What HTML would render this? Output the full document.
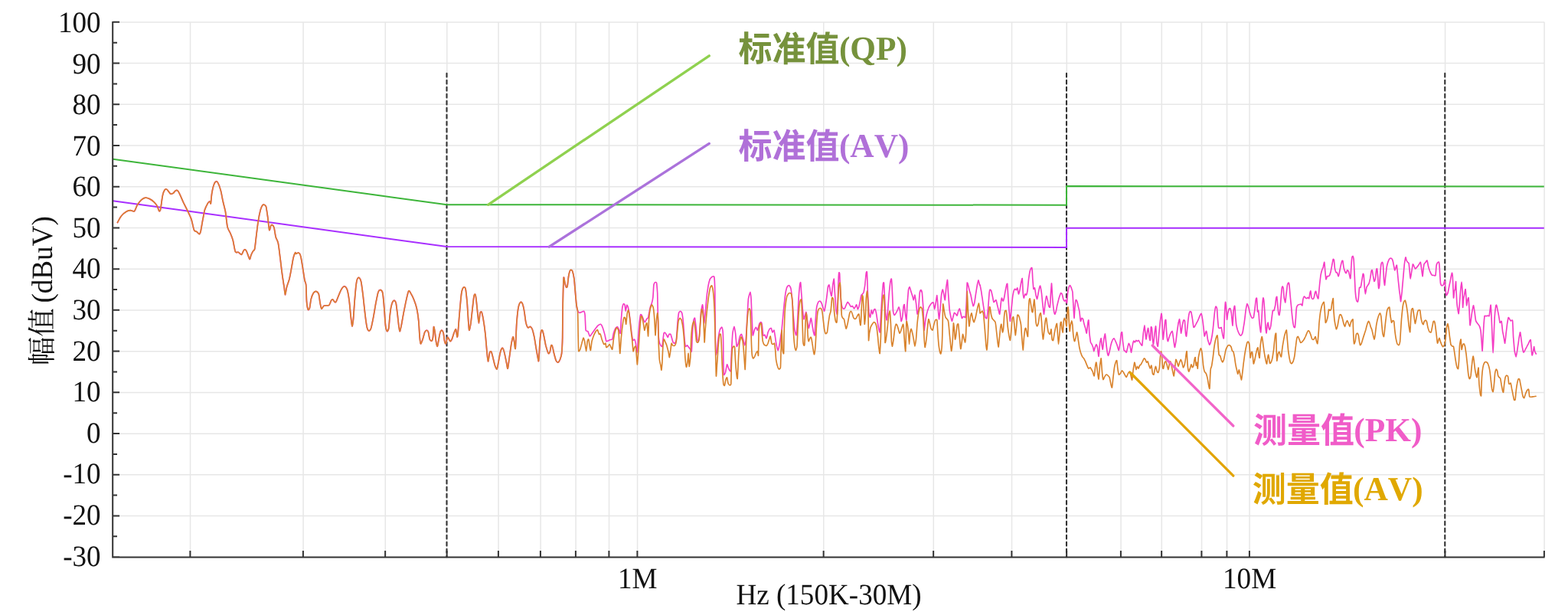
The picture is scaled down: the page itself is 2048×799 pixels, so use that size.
<!DOCTYPE html>
<html><head><meta charset="utf-8"><title>chart</title>
<style>html,body{margin:0;padding:0;background:#fff;}body{width:2048px;height:799px;overflow:hidden;font-family:"Liberation Serif",serif;}svg{display:block;will-change:transform;}text{font-family:"Liberation Serif",serif;font-kerning:none;text-rendering:geometricPrecision;}</style></head><body>
<svg width="2048" height="799" viewBox="0 0 2048 799">
<rect width="2048" height="799" fill="#fff"/>
<path d="M147.5 673.58H2017.05M147.5 619.85H2017.05M147.5 566.13H2017.05M147.5 512.41H2017.05M147.5 458.68H2017.05M147.5 404.96H2017.05M147.5 351.24H2017.05M147.5 297.52H2017.05M147.5 243.79H2017.05M147.5 190.07H2017.05M147.5 136.35H2017.05M147.5 82.62H2017.05M147.5 28.90H2017.05M248.55 28.8V727.2M396.05 28.8V727.2M503.3 28.8V727.2M583.8 28.8V727.2M651.05 28.8V727.2M706.05 28.8V727.2M752.05 28.8V727.2M795.55 28.8V727.2M832.55 28.8V727.2M1075.8 28.8V727.2M1219.3 28.8V727.2M1321.55 28.8V727.2M1393.3 28.8V727.2M1464.05 28.8V727.2M1517.3 28.8V727.2M1569.55 28.8V727.2M1602.55 28.8V727.2M1632.05 28.8V727.2M1887.55 28.8V727.2M2017.05 28.8V727.2" stroke="#e7e7e7" stroke-width="1.5" fill="none"/>
<path d="M583.5 95.7V727.2M1393 95.7V727.2M1887.25 95.7V727.2" stroke="#333" stroke-width="2.1" stroke-linecap="round" stroke-dasharray="4.7 4.3" fill="none"/>
<path d="M147.5 207.8L583.5 267.2L1393 267.7V243L2016.75 243.6" stroke="#3db53a" stroke-width="2" fill="none" stroke-linejoin="miter"/>
<path d="M147.5 262.2L583.5 322L1393 323V297.8L2016.75 297.8" stroke="#a82fff" stroke-width="2" fill="none" stroke-linejoin="miter"/>
<path d="M153.1 291.2C153.8 290.0 156.9 283.8 158.4 282.0C159.9 280.1 163.5 277.1 165.0 276.2C166.4 275.3 168.9 274.7 170.2 274.6C171.5 274.5 174.3 276.5 175.5 275.7C176.6 274.8 178.3 269.3 179.4 267.5C180.6 265.7 183.4 262.1 184.7 260.9C186.0 259.8 188.6 258.2 189.9 258.1C191.2 257.9 193.8 258.9 195.2 259.6C196.6 260.3 199.7 262.4 201.0 263.6C202.2 264.7 204.3 267.3 205.2 268.8C206.0 270.3 207.2 274.8 207.8 275.4C208.3 276.0 209.1 276.0 209.6 273.6C210.2 271.1 211.6 258.8 212.3 255.7C212.9 252.5 214.2 249.4 214.9 248.3C215.5 247.2 216.9 246.8 217.5 247.0C218.2 247.2 219.5 249.2 220.1 249.9C220.8 250.7 222.0 252.8 222.8 253.1C223.5 253.4 225.4 252.8 226.2 252.3C227.0 251.7 228.6 249.3 229.3 248.9C230.1 248.4 231.3 248.3 232.0 248.9C232.6 249.4 233.6 251.1 234.6 253.1C235.6 255.1 238.5 262.1 239.8 264.9C241.2 267.7 243.8 272.8 245.1 275.4C246.3 278.0 248.8 282.8 249.8 285.9C250.9 289.0 252.6 298.3 253.5 300.4C254.4 302.4 256.1 301.8 256.9 302.5C257.8 303.1 259.7 305.7 260.3 305.6C261.0 305.5 261.6 304.0 262.2 301.7C262.7 299.4 264.1 290.7 264.8 287.2C265.5 283.8 266.6 276.8 267.4 274.1C268.3 271.4 270.6 266.8 271.4 265.4C272.2 264.0 273.5 263.0 274.0 263.0C274.5 263.1 275.0 266.9 275.3 265.7C275.6 264.4 276.1 256.1 276.6 253.1C277.1 250.0 278.5 243.3 279.3 241.2C280.0 239.2 281.7 237.0 282.4 236.8C283.1 236.5 284.3 237.9 285.0 239.4C285.8 240.9 287.7 246.3 288.4 249.1C289.2 252.0 290.3 258.8 291.1 262.3C291.8 265.7 293.7 272.4 294.5 276.7C295.2 281.0 296.3 293.0 297.1 296.4C297.9 299.9 299.9 302.2 300.8 304.3C301.7 306.4 303.4 310.4 304.2 313.5C305.0 316.5 306.5 326.8 307.4 328.7C308.3 330.7 310.3 328.8 311.3 329.3C312.3 329.7 314.7 332.7 315.5 332.4C316.4 332.1 317.5 328.0 318.1 327.2C318.7 326.3 319.7 325.6 320.2 325.8C320.8 326.1 321.9 327.7 322.6 329.3C323.3 330.8 325.4 338.0 326.0 338.4C326.7 338.9 327.3 334.5 327.9 333.2C328.4 331.9 329.9 328.9 330.5 327.9C331.1 327.0 332.1 327.4 332.6 325.3C333.1 323.2 333.9 315.3 334.4 310.9C335.0 306.4 336.3 294.4 337.1 289.8C337.8 285.2 339.5 276.8 340.2 274.1C340.9 271.4 342.2 268.9 342.8 268.0C343.5 267.2 344.9 267.2 345.5 267.5C346.1 267.8 347.0 268.2 347.6 270.1C348.1 272.1 349.1 279.5 349.7 283.3C350.2 287.1 351.2 299.0 351.8 300.4C352.3 301.7 353.3 295.1 353.9 294.3C354.4 293.5 355.4 293.4 356.0 293.8C356.5 294.2 357.6 295.8 358.1 297.7C358.6 299.7 359.5 307.1 360.2 309.5C360.8 312.0 362.6 314.0 363.3 317.4C364.1 320.9 365.3 332.0 366.0 337.1C366.6 342.2 367.9 353.4 368.6 358.2C369.2 362.9 370.7 371.9 371.2 375.2C371.7 378.6 372.1 385.0 372.5 385.0C372.9 385.0 373.7 377.8 374.4 375.2C375.0 372.7 377.0 367.7 377.8 364.7C378.5 361.8 379.8 355.0 380.4 351.6C381.1 348.1 382.4 339.9 383.0 337.1C383.7 334.4 385.2 330.5 385.7 329.8C386.1 329.1 386.0 331.3 386.6 331.3C387.1 331.3 389.2 329.7 390.0 330.0C390.7 330.3 392.0 331.6 392.6 333.9C393.3 336.2 394.6 344.5 395.2 348.4C395.9 352.3 397.3 362.5 397.9 365.5C398.4 368.4 399.4 368.6 399.7 372.0C400.0 375.5 400.2 389.1 400.5 393.1C400.8 397.1 401.8 402.9 402.3 404.1C402.8 405.2 403.9 404.0 404.4 402.3C404.9 400.5 405.7 392.9 406.3 390.4C406.9 388.0 408.6 383.8 409.4 382.5C410.2 381.3 412.0 380.3 412.8 380.4C413.7 380.6 415.6 382.0 416.3 383.9C416.9 385.8 417.6 393.3 418.1 395.7C418.6 398.1 419.4 402.5 419.9 403.0C420.5 403.5 421.8 400.2 422.6 399.6C423.3 399.1 425.1 399.0 426.0 398.8C426.9 398.7 429.1 399.1 429.9 398.3C430.7 397.5 432.0 393.5 432.5 392.5C433.1 391.6 434.1 390.7 434.7 391.0C435.2 391.2 436.7 394.0 437.3 394.4C437.8 394.7 438.4 394.9 439.1 393.6C439.8 392.3 442.1 386.1 443.1 383.9C444.0 381.7 446.1 377.2 447.0 376.0C447.9 374.7 449.6 373.5 450.4 373.9C451.2 374.2 452.8 376.2 453.6 378.6C454.3 381.0 455.6 388.6 456.2 393.1C456.8 397.5 457.8 410.0 458.3 414.1C458.8 418.2 459.5 425.6 459.9 425.9C460.3 426.2 461.0 421.5 461.5 416.7C461.9 411.9 463.0 393.9 463.6 387.8C464.1 381.7 465.1 371.3 465.7 368.1C466.2 364.9 467.6 362.5 468.3 362.3C469.0 362.2 470.7 363.9 471.4 366.8C472.2 369.6 473.4 379.9 474.1 385.2C474.7 390.4 476.0 403.6 476.7 408.8C477.3 414.1 478.7 424.3 479.3 427.2C480.0 430.1 481.3 431.8 481.9 431.9C482.6 432.1 483.8 430.8 484.6 428.5C485.3 426.3 486.9 418.2 487.7 414.1C488.5 410.0 490.1 399.8 490.9 395.7C491.7 391.6 493.2 383.4 494.0 381.2C494.8 379.1 496.5 378.4 497.2 378.6C497.9 378.8 499.2 379.4 499.8 382.5C500.4 385.7 501.5 398.3 501.9 403.6C502.4 408.8 503.0 421.0 503.5 424.6C503.9 428.2 505.1 432.0 505.6 432.5C506.1 433.0 507.2 431.2 507.7 428.5C508.2 425.9 508.8 415.2 509.3 411.5C509.7 407.7 510.7 400.7 511.4 398.3C512.0 395.9 513.8 392.6 514.5 392.3C515.2 391.9 516.6 393.3 517.2 395.7C517.7 398.1 518.8 407.5 519.3 411.5C519.7 415.4 520.7 424.6 521.1 427.2C521.5 429.8 522.0 433.0 522.4 432.5C522.8 432.0 523.9 426.2 524.5 423.3C525.1 420.3 526.4 412.6 527.1 408.8C527.9 405.0 529.5 396.7 530.3 393.1C531.1 389.4 532.9 381.1 533.7 379.9C534.6 378.8 536.2 382.4 537.1 383.9C538.0 385.3 539.9 389.4 540.8 391.7C541.7 394.0 543.5 398.8 544.2 402.3C545.0 405.7 546.3 414.6 546.8 419.3C547.3 424.1 547.8 436.7 548.2 440.4C548.5 444.0 549.0 448.4 549.5 448.8C550.0 449.1 551.4 444.9 552.1 443.0C552.8 441.1 554.1 435.3 554.7 433.8C555.4 432.3 556.8 431.2 557.4 431.2C557.9 431.2 559.0 432.3 559.5 433.8C559.9 435.3 560.7 441.6 561.3 443.0C561.9 444.4 563.4 445.4 563.9 445.1C564.4 444.8 565.2 442.7 565.5 440.4C565.8 438.1 566.2 427.5 566.5 426.7C566.9 425.9 567.7 431.3 568.1 433.8C568.5 436.3 569.3 444.6 569.7 446.9C570.1 449.2 570.9 452.5 571.3 452.2C571.7 451.8 572.4 446.6 572.9 444.3C573.3 442.0 574.4 435.4 575.0 433.8C575.5 432.1 576.5 431.0 577.1 431.2C577.6 431.3 578.7 433.3 579.2 435.1C579.6 436.9 580.3 443.9 580.7 445.6C581.1 447.3 581.9 449.4 582.3 448.8C582.8 448.1 583.9 441.1 584.4 440.4C584.9 439.6 586.1 442.3 586.5 443.0C587.0 443.6 587.6 445.6 588.1 445.6C588.6 445.6 589.6 444.3 590.2 443.0C590.8 441.7 592.2 436.7 592.8 435.1C593.5 433.5 594.9 429.3 595.4 429.8C596.0 430.4 596.7 439.2 597.0 439.8C597.4 440.5 597.7 439.0 598.1 435.1C598.5 431.2 599.6 415.4 600.2 408.8C600.8 402.3 602.1 386.8 602.8 382.5C603.5 378.3 604.8 375.8 605.4 375.2C606.1 374.5 607.5 374.7 608.1 377.3C608.7 379.9 609.7 390.4 610.2 395.7C610.6 400.9 611.4 414.9 611.7 419.3C612.1 423.8 612.4 430.8 612.8 431.2C613.2 431.5 614.4 425.4 614.9 422.0C615.4 418.5 616.5 408.0 617.0 403.6C617.5 399.1 618.6 388.9 619.1 386.5C619.6 384.1 620.3 383.6 620.7 384.4C621.1 385.2 621.9 390.0 622.2 393.1C622.6 396.1 623.4 405.2 623.8 408.8C624.2 412.4 625.0 422.0 625.4 422.0C625.8 422.0 626.5 410.6 627.0 408.8C627.4 407.0 628.6 406.5 629.1 407.5C629.6 408.5 630.6 413.3 631.2 416.7C631.8 420.2 633.2 429.8 633.8 435.1C634.4 440.4 635.5 454.1 635.9 458.7C636.4 463.3 637.0 471.7 637.5 471.9C637.9 472.0 639.1 461.6 639.6 460.1C640.1 458.5 641.2 458.4 641.7 459.3C642.2 460.1 643.2 464.4 643.8 466.6C644.4 468.9 645.8 475.2 646.4 477.1C647.1 479.0 648.5 482.5 649.0 481.9C649.6 481.2 650.6 474.8 651.2 471.9C651.7 469.0 653.1 460.9 653.8 458.7C654.4 456.5 655.7 453.9 656.4 454.3C657.1 454.6 658.4 458.8 659.0 461.4C659.7 463.9 661.1 472.0 661.7 474.5C662.2 477.0 662.8 482.1 663.2 481.1C663.7 480.1 664.7 470.7 665.3 466.6C665.9 462.5 667.4 451.6 668.0 448.2C668.6 444.9 669.6 440.2 670.1 439.8C670.5 439.5 671.3 443.7 671.6 445.6C672.0 447.5 672.8 457.8 673.2 454.8C673.6 451.8 674.3 428.5 674.8 422.0C675.3 415.4 676.2 405.7 676.9 402.3C677.5 398.8 679.3 395.0 680.0 394.4C680.7 393.7 682.0 395.5 682.6 397.0C683.2 398.5 684.2 403.2 684.7 406.2C685.3 409.2 686.2 418.0 686.8 420.6C687.4 423.3 688.7 427.0 689.5 427.7C690.2 428.5 691.9 426.2 692.6 426.4C693.3 426.7 694.6 428.1 695.2 429.8C695.9 431.6 697.2 437.1 697.9 440.4C698.5 443.6 699.9 452.7 700.5 456.1C701.1 459.6 702.2 466.1 702.6 467.9C703.0 469.7 703.3 473.4 703.6 470.6C704.0 467.8 704.8 450.4 705.2 445.6C705.6 440.8 706.4 434.3 706.8 432.5C707.2 430.7 707.9 430.5 708.4 431.2C708.8 431.8 709.7 435.3 710.2 437.7C710.8 440.2 712.1 447.9 712.8 450.9C713.6 453.8 715.6 460.4 716.3 461.4C716.9 462.4 717.9 460.1 718.4 458.7C718.8 457.4 719.5 451.7 719.9 450.9C720.3 450.0 721.1 450.9 721.5 452.2C722.0 453.5 723.0 459.1 723.6 461.4C724.2 463.7 725.6 469.1 726.2 470.6C726.9 472.0 728.2 473.4 728.9 473.2C729.5 473.0 730.9 470.7 731.5 469.3C732.1 467.8 733.2 465.0 733.6 461.4C734.0 457.8 734.5 448.6 734.7 440.4C734.8 432.1 735.0 405.4 735.2 395.7C735.4 386.0 735.9 366.1 736.2 362.8C736.6 359.6 737.4 367.9 737.8 369.4C738.2 370.9 739.0 374.1 739.4 374.7C739.8 375.3 740.6 375.8 741.0 374.1C741.4 372.5 742.1 364.0 742.5 361.5C742.9 359.0 743.7 355.3 744.1 354.2C744.5 353.0 745.2 352.3 745.7 352.3C746.1 352.3 747.3 352.7 747.8 354.2C748.3 355.7 749.4 360.6 749.9 364.2C750.3 367.7 751.1 378.3 751.5 382.5C751.9 386.8 752.6 395.4 753.0 398.3C753.4 401.3 754.4 405.2 754.6 406.2" stroke="#f53cc4" stroke-width="1.8" fill="none" stroke-linejoin="round"/>
<path d="M754.6 406.2C754.8 406.4 756.3 408.2 756.7 408.3C757.1 408.4 758.9 407.7 759.3 407.5C759.8 407.3 762.1 405.9 762.5 406.2C762.9 406.5 763.9 409.4 764.1 411.5C764.3 413.5 764.8 429.4 765.1 431.2C765.4 432.9 767.3 431.8 767.8 432.5C768.2 433.1 769.9 438.8 770.4 439.0C770.9 439.3 773.0 435.9 773.5 435.1C774.1 434.3 776.6 430.7 777.2 429.8C777.8 429.0 780.3 425.7 780.9 425.1C781.5 424.6 784.0 423.1 784.6 423.3C785.1 423.5 786.8 426.6 787.2 427.7C787.6 428.8 789.4 434.9 789.8 436.4C790.2 437.9 791.5 444.9 791.9 445.6C792.3 446.3 794.1 445.0 794.6 444.8C795.0 444.6 796.7 443.7 797.2 443.5C797.6 443.4 799.5 443.7 799.8 443.0C800.2 442.3 801.0 436.3 801.4 435.1C801.7 433.9 803.6 429.2 804.0 428.5C804.5 427.8 806.2 426.5 806.6 426.7C807.0 426.9 808.4 430.5 808.7 431.2C809.1 431.9 810.1 436.3 810.3 435.1C810.5 433.9 811.2 419.6 811.4 416.7C811.6 413.9 812.7 402.6 812.9 400.9C813.2 399.3 814.3 396.7 814.5 396.5C814.8 396.3 815.9 397.5 816.1 398.3C816.3 399.1 816.9 406.2 817.2 406.2C817.4 406.2 818.5 398.8 818.7 398.3C819.0 397.9 820.0 400.1 820.3 400.9C820.6 401.8 821.6 407.1 821.9 408.8C822.1 410.6 823.2 419.8 823.5 422.0C823.7 424.1 824.8 433.2 825.0 435.1C825.3 437.0 826.3 443.6 826.6 444.3C826.9 445.0 828.4 442.7 828.7 443.0C829.0 443.3 830.0 446.8 830.3 448.2C830.6 449.7 831.6 460.5 831.9 460.1C832.1 459.6 833.2 446.2 833.4 443.0C833.7 439.8 834.8 424.6 835.0 422.0C835.3 419.3 836.3 411.8 836.6 410.9C836.9 410.0 837.9 411.0 838.2 411.5C838.5 411.9 839.9 415.9 840.3 416.7C840.6 417.5 842.0 420.6 842.4 420.6C842.7 420.6 844.1 417.2 844.5 416.7C844.8 416.2 846.3 415.5 846.6 414.6C846.9 413.7 847.9 407.4 848.2 406.2C848.4 404.9 849.5 400.5 849.7 399.6C850.0 398.8 851.0 396.7 851.3 395.7C851.6 394.7 852.7 389.8 852.9 387.8C853.1 385.8 853.7 373.6 853.9 372.0C854.2 370.4 855.2 368.8 855.5 368.6C855.8 368.4 857.4 368.3 857.6 369.4C857.9 370.6 858.5 379.5 858.7 382.5C858.8 385.6 859.1 402.3 859.2 406.2C859.3 410.1 859.6 426.7 859.7 429.8C859.8 433.0 860.5 442.5 860.8 444.3C861.0 446.0 862.5 450.2 862.9 450.9C863.2 451.5 864.7 452.8 865.0 452.2C865.2 451.5 865.8 444.4 866.0 443.0C866.2 441.6 866.9 435.8 867.1 435.1C867.3 434.4 868.3 434.1 868.6 434.3C869.0 434.5 870.4 437.2 870.8 437.7C871.1 438.2 872.1 440.5 872.3 440.4C872.6 440.2 873.6 436.7 873.9 436.4C874.2 436.1 875.7 436.0 876.0 436.4C876.3 436.8 877.3 440.8 877.6 441.7C877.8 442.5 878.9 446.4 879.2 446.9C879.5 447.5 880.9 448.6 881.3 448.2C881.6 447.9 883.1 445.2 883.4 443.0C883.7 440.8 884.7 424.8 884.9 422.0C885.2 419.1 886.2 410.1 886.5 408.8C886.8 407.5 888.3 406.2 888.6 406.2C889.0 406.2 890.4 407.7 890.7 408.8C891.0 409.9 892.0 416.7 892.3 419.3C892.6 422.0 893.6 437.6 893.9 440.4C894.1 443.1 895.1 451.3 895.4 452.2C895.8 453.1 897.2 450.8 897.6 450.9C897.9 451.0 899.3 453.1 899.7 453.5C900.0 453.9 901.4 455.7 901.8 456.1C902.1 456.6 903.1 460.5 903.3 458.7C903.6 457.0 904.2 438.5 904.4 435.1C904.6 431.7 905.7 419.7 906.0 418.0C906.2 416.4 907.3 414.6 907.5 415.4C907.8 416.2 908.8 424.9 909.1 427.2C909.4 429.5 910.4 441.4 910.7 443.0C911.0 444.5 912.0 446.3 912.3 445.6C912.5 445.0 913.6 438.2 913.8 435.1C914.1 432.0 915.1 411.9 915.4 408.8C915.7 405.7 917.3 398.0 917.5 397.8C917.8 397.6 918.4 404.2 918.6 406.2C918.7 408.2 919.4 421.7 919.6 422.0C919.8 422.2 920.9 411.5 921.2 408.8C921.5 406.2 922.5 393.1 922.8 390.4C923.0 387.8 924.0 379.3 924.4 377.3C924.7 375.3 926.1 368.1 926.5 366.8C926.8 365.5 928.6 362.5 929.1 362.1C929.6 361.6 932.4 359.8 932.8 361.5C933.2 363.2 933.7 376.4 933.8 382.5C933.9 388.7 934.2 428.4 934.3 435.1C934.4 441.8 934.7 460.7 934.9 462.7C935.0 464.7 936.2 460.4 936.4 458.7C936.7 457.1 937.7 445.3 938.0 443.0C938.3 440.7 939.7 432.5 940.1 431.2C940.5 429.8 942.4 426.9 942.7 427.2C943.1 427.5 944.1 431.8 944.3 435.1C944.5 438.4 944.8 462.1 944.8 466.6C944.9 471.1 945.2 487.3 945.4 489.0C945.6 490.6 947.1 487.4 947.5 486.3C947.8 485.2 949.2 476.3 949.6 475.8C949.9 475.4 951.3 480.4 951.7 481.1C952.1 481.8 954.0 486.1 954.3 484.5C954.6 482.9 955.1 465.5 955.4 461.4C955.6 457.3 956.6 438.0 956.9 435.1C957.2 432.2 958.7 426.4 959.0 426.4C959.3 426.4 960.3 433.0 960.6 435.1C960.9 437.2 961.9 451.1 962.2 452.2C962.5 453.3 963.9 449.3 964.3 448.2C964.6 447.1 966.0 440.0 966.4 439.0C966.7 438.1 968.1 436.1 968.5 436.4C968.8 436.7 970.2 441.8 970.6 443.0C970.9 444.2 972.4 450.9 972.7 450.9C973.0 450.9 974.0 445.8 974.3 443.0C974.5 440.1 975.6 421.1 975.8 416.7C976.1 412.3 977.1 393.4 977.4 390.4C977.8 387.5 979.7 381.2 980.0 381.2C980.3 381.2 980.9 387.7 981.1 390.4C981.2 393.2 981.9 410.1 982.1 414.1C982.3 418.0 982.9 436.3 983.2 437.7C983.4 439.1 984.9 432.0 985.3 431.2C985.6 430.3 987.0 427.2 987.4 427.2C987.7 427.2 989.1 431.5 989.5 431.2C989.8 430.8 991.2 424.1 991.6 423.3C991.9 422.4 993.4 420.6 993.7 420.6C994.0 420.6 995.0 421.9 995.2 423.3C995.5 424.7 996.5 436.6 996.8 437.7C997.1 438.9 998.6 436.9 998.9 437.2C999.3 437.5 1000.7 442.0 1001.0 441.7C1001.4 441.4 1002.8 434.8 1003.1 433.8C1003.5 432.8 1004.9 429.8 1005.2 429.3C1005.6 428.9 1007.0 428.2 1007.3 428.5C1007.6 428.9 1008.6 433.6 1008.9 433.8C1009.2 434.0 1010.7 430.6 1011.0 431.2C1011.3 431.7 1012.3 438.7 1012.6 440.4C1012.8 442.0 1013.9 449.4 1014.2 450.9C1014.5 452.3 1015.9 457.6 1016.3 457.4C1016.6 457.2 1018.1 449.9 1018.4 448.2C1018.7 446.6 1019.7 439.1 1019.9 437.7C1020.2 436.3 1020.8 433.1 1021.0 431.2C1021.2 429.2 1022.3 417.3 1022.6 414.1C1022.9 410.9 1024.3 396.0 1024.7 393.1C1025.0 390.1 1026.4 380.2 1026.8 378.6C1027.1 377.0 1028.5 373.8 1028.9 373.4C1029.2 372.9 1030.6 372.5 1031.0 372.8C1031.3 373.2 1032.8 375.8 1033.1 377.3C1033.4 378.8 1034.4 387.6 1034.7 390.4C1034.9 393.3 1036.0 408.2 1036.2 411.5C1036.5 414.7 1037.5 427.7 1037.8 429.8C1038.1 432.0 1039.6 438.4 1039.9 437.7C1040.2 437.1 1041.2 425.9 1041.5 422.0C1041.7 418.0 1042.8 394.6 1043.1 390.4C1043.3 386.3 1044.4 373.8 1044.6 372.0C1044.9 370.2 1045.5 368.0 1045.7 368.9C1045.9 369.8 1046.5 379.7 1046.7 382.5C1047.0 385.4 1048.1 400.7 1048.3 403.6C1048.6 406.4 1049.6 416.0 1049.9 416.7C1050.2 417.4 1051.2 412.2 1051.5 411.5C1051.7 410.7 1052.8 406.9 1053.0 407.5C1053.3 408.2 1054.4 417.6 1054.6 419.3C1054.9 421.1 1055.9 428.3 1056.2 428.5C1056.5 428.7 1057.5 423.1 1057.8 422.0C1058.0 420.9 1059.1 415.2 1059.3 415.4C1059.6 415.6 1060.7 423.1 1060.9 424.6C1061.2 426.1 1062.2 432.7 1062.5 433.8C1062.8 434.9 1063.9 438.9 1064.1 437.7C1064.3 436.5 1064.9 422.4 1065.1 419.3C1065.3 416.3 1066.4 403.0 1066.7 400.9C1067.0 398.9 1068.5 395.0 1068.8 394.4C1069.2 393.7 1070.6 392.9 1070.9 393.1C1071.3 393.2 1072.7 394.9 1073.0 395.7C1073.4 396.5 1074.8 401.4 1075.1 402.3C1075.4 403.1 1076.4 406.5 1076.7 406.2C1077.0 405.9 1078.0 399.8 1078.3 398.3C1078.5 396.8 1079.6 389.8 1079.8 387.8C1080.1 385.8 1081.2 376.0 1081.4 374.7C1081.7 373.4 1082.7 371.5 1083.0 372.0C1083.3 372.6 1084.3 380.0 1084.6 381.2C1084.8 382.4 1085.9 387.3 1086.1 386.5C1086.4 385.7 1087.5 373.9 1087.7 372.0C1088.0 370.2 1089.1 363.3 1089.3 364.2C1089.5 365.0 1090.1 379.3 1090.4 382.5C1090.6 385.8 1091.7 401.3 1091.9 403.6C1092.2 405.9 1093.3 411.9 1093.5 410.1C1093.7 408.4 1094.4 387.0 1094.6 382.5C1094.7 378.1 1095.4 359.1 1095.6 357.1C1095.8 355.0 1096.5 355.5 1096.7 357.6C1096.8 359.7 1097.5 379.2 1097.7 382.5C1097.9 385.9 1099.0 396.6 1099.3 398.3C1099.6 400.0 1101.0 402.7 1101.4 403.0C1101.7 403.4 1103.2 402.6 1103.5 402.3C1103.8 401.9 1104.8 399.0 1105.1 398.3C1105.4 397.7 1106.8 394.5 1107.2 394.4C1107.5 394.3 1108.9 396.5 1109.3 397.0C1109.6 397.5 1111.0 400.2 1111.4 400.4C1111.7 400.6 1113.1 399.4 1113.5 399.6C1113.8 399.8 1115.3 403.0 1115.6 403.0C1115.9 403.1 1116.9 400.9 1117.2 400.4C1117.4 400.0 1118.5 397.5 1118.7 397.8C1119.0 398.1 1120.0 403.3 1120.3 403.6C1120.6 403.8 1121.6 401.3 1121.9 400.4C1122.1 399.5 1123.2 394.3 1123.5 393.1C1123.7 391.8 1124.8 385.9 1125.0 385.2C1125.3 384.4 1126.3 384.2 1126.6 383.9C1126.9 383.5 1127.9 382.2 1128.2 381.2C1128.4 380.2 1129.5 374.1 1129.8 372.0C1130.0 370.0 1131.1 357.6 1131.3 356.3C1131.6 354.9 1132.2 353.6 1132.4 355.7C1132.6 357.9 1133.2 378.1 1133.4 382.5C1133.7 387.0 1134.8 406.2 1135.0 408.8C1135.3 411.5 1136.3 414.4 1136.6 414.1C1136.9 413.7 1137.9 405.2 1138.2 404.9C1138.4 404.6 1139.5 410.1 1139.7 410.1C1140.0 410.1 1141.1 405.4 1141.3 404.9C1141.6 404.3 1142.6 403.2 1142.9 403.6C1143.2 403.9 1144.2 407.5 1144.5 408.8C1144.7 410.1 1145.8 417.7 1146.1 419.3C1146.3 421.0 1147.4 427.3 1147.6 428.5C1147.9 429.7 1149.0 434.8 1149.2 433.8C1149.4 432.8 1150.0 420.3 1150.3 416.7C1150.5 413.1 1151.6 394.3 1151.8 390.4C1152.1 386.6 1153.2 372.5 1153.4 370.7C1153.6 369.0 1154.3 368.0 1154.5 369.4C1154.6 370.8 1155.3 384.5 1155.5 387.8C1155.7 391.1 1156.3 406.3 1156.6 408.8C1156.8 411.3 1157.9 418.5 1158.1 418.0C1158.4 417.6 1159.5 406.5 1159.7 403.6C1160.0 400.6 1161.0 385.5 1161.3 382.5C1161.6 379.6 1162.6 369.6 1162.9 368.1C1163.1 366.6 1164.2 363.0 1164.4 364.2C1164.7 365.4 1165.3 379.0 1165.5 382.5C1165.7 386.1 1166.3 403.8 1166.5 406.2C1166.8 408.6 1167.8 411.2 1168.1 411.5C1168.4 411.7 1169.9 409.4 1170.2 408.8C1170.6 408.3 1172.0 405.5 1172.3 404.9C1172.6 404.2 1173.6 400.8 1173.9 400.9C1174.2 401.1 1175.2 404.7 1175.5 406.2C1175.7 407.7 1176.8 418.7 1177.1 419.3C1177.3 420.0 1178.4 415.7 1178.6 414.1C1178.9 412.4 1180.0 401.0 1180.2 399.6C1180.4 398.3 1181.1 397.0 1181.3 397.8C1181.4 398.6 1182.1 407.1 1182.3 408.8C1182.5 410.5 1183.7 418.9 1183.9 418.0C1184.1 417.1 1184.7 401.6 1184.9 398.3C1185.2 395.0 1186.3 380.6 1186.5 378.6C1186.8 376.6 1187.8 374.6 1188.1 374.7C1188.4 374.8 1189.4 378.9 1189.7 379.9C1190.0 380.9 1191.5 385.5 1191.8 386.5C1192.1 387.5 1193.1 391.9 1193.3 391.7C1193.6 391.6 1194.7 384.8 1194.9 385.2C1195.2 385.5 1196.2 393.6 1196.5 395.7C1196.8 397.8 1197.8 409.5 1198.1 410.1C1198.3 410.8 1199.4 405.9 1199.7 403.6C1199.9 401.3 1201.0 384.6 1201.2 382.5C1201.5 380.5 1202.5 378.6 1202.8 378.6C1203.1 378.6 1204.1 380.5 1204.4 382.5C1204.6 384.6 1205.7 399.5 1206.0 403.6C1206.2 407.6 1206.8 429.8 1207.0 431.2C1207.2 432.5 1208.3 421.2 1208.6 419.3C1208.9 417.5 1210.3 410.2 1210.7 408.8C1211.0 407.4 1212.4 403.1 1212.8 402.3C1213.1 401.4 1214.5 398.9 1214.9 398.3C1215.2 397.8 1216.6 395.9 1217.0 395.7C1217.3 395.4 1218.8 394.5 1219.1 395.2C1219.4 395.8 1220.4 403.5 1220.7 403.6C1220.9 403.6 1222.0 397.2 1222.2 395.7C1222.5 394.2 1223.6 385.5 1223.8 385.7C1224.0 385.9 1224.7 395.7 1224.9 398.3C1225.1 400.9 1226.2 416.3 1226.5 416.7C1226.7 417.1 1227.8 406.2 1228.0 403.6C1228.3 400.9 1229.3 387.3 1229.6 385.2C1229.9 383.1 1230.9 378.2 1231.2 378.1C1231.4 378.0 1232.5 382.7 1232.8 383.9C1233.0 385.0 1234.1 392.5 1234.3 391.7C1234.6 391.0 1235.6 376.9 1235.9 374.7C1236.2 372.5 1237.3 364.8 1237.5 365.5C1237.7 366.1 1238.3 379.4 1238.5 382.5C1238.8 385.7 1239.9 401.1 1240.1 403.6C1240.4 406.1 1241.4 411.5 1241.7 412.8C1242.0 414.1 1243.0 419.2 1243.3 419.3C1243.5 419.4 1244.6 415.0 1244.8 414.1C1245.1 413.2 1246.1 408.6 1246.4 408.3C1246.7 408.0 1248.2 409.8 1248.5 410.1C1248.8 410.4 1249.8 412.3 1250.1 412.0C1250.4 411.6 1251.4 406.9 1251.7 406.2C1251.9 405.5 1253.0 402.8 1253.3 403.0C1253.5 403.3 1254.6 407.8 1254.8 408.8C1255.1 409.9 1256.1 415.0 1256.4 415.4C1256.7 415.8 1257.7 413.7 1258.0 413.6C1258.2 413.4 1259.3 413.5 1259.6 413.6C1259.8 413.6 1260.9 415.6 1261.1 414.1C1261.4 412.6 1262.0 399.4 1262.2 395.7C1262.4 392.0 1263.0 371.3 1263.2 369.4C1263.5 367.6 1264.6 372.5 1264.8 373.4C1265.1 374.2 1266.1 378.9 1266.4 379.9C1266.7 380.9 1267.7 384.1 1268.0 385.2C1268.2 386.3 1269.3 391.9 1269.5 393.1C1269.8 394.3 1270.9 399.4 1271.1 399.6C1271.4 399.8 1272.4 396.9 1272.7 395.7C1273.0 394.5 1274.0 387.1 1274.3 385.2C1274.6 383.2 1276.1 373.7 1276.4 372.0C1276.7 370.4 1277.7 365.5 1278.0 365.5C1278.2 365.5 1279.4 371.5 1279.5 372.0C1279.7 372.6 1279.8 371.4 1280.0 372.0C1280.2 372.7 1281.3 378.4 1281.6 379.9C1281.8 381.5 1282.9 388.7 1283.2 390.4C1283.4 392.2 1284.4 399.0 1284.7 400.9C1285.0 402.9 1286.5 412.9 1286.8 414.1C1287.2 415.3 1288.6 416.3 1288.9 415.4C1289.2 414.5 1290.2 406.3 1290.5 403.6C1290.8 400.8 1291.9 384.7 1292.1 382.5C1292.3 380.4 1292.9 378.3 1293.1 378.1C1293.4 377.9 1294.5 379.2 1294.7 379.9C1295.0 380.6 1296.0 385.3 1296.3 386.5C1296.6 387.7 1297.6 393.8 1297.9 394.4C1298.1 394.9 1299.2 393.3 1299.4 393.1C1299.7 392.8 1300.8 391.3 1301.0 391.7C1301.3 392.2 1302.3 397.2 1302.6 398.3C1302.9 399.4 1303.9 403.9 1304.2 404.9C1304.4 405.9 1305.5 410.9 1305.7 410.1C1306.0 409.4 1307.1 397.4 1307.3 395.7C1307.5 393.9 1308.2 389.3 1308.4 389.1C1308.6 388.9 1309.7 393.1 1310.0 393.1C1310.2 393.1 1311.3 390.2 1311.5 389.1C1311.8 388.0 1312.8 381.3 1313.1 379.9C1313.4 378.5 1314.5 372.8 1314.7 372.0C1314.9 371.3 1315.6 369.4 1315.7 370.7C1315.9 372.0 1316.6 384.6 1316.8 387.8C1317.0 391.0 1318.1 406.2 1318.4 408.8C1318.6 411.5 1319.2 419.8 1319.4 419.3C1319.6 418.9 1320.7 406.2 1321.0 403.6C1321.3 400.9 1322.3 389.8 1322.6 387.8C1322.8 385.8 1323.9 380.8 1324.1 379.9C1324.4 379.0 1325.5 377.4 1325.7 377.3C1326.0 377.2 1327.0 378.7 1327.3 378.6C1327.6 378.5 1328.6 375.5 1328.9 376.0C1329.1 376.4 1330.2 383.6 1330.4 383.9C1330.7 384.1 1331.8 379.8 1332.0 378.6C1332.3 377.4 1333.3 370.7 1333.6 369.4C1333.9 368.2 1335.0 362.5 1335.2 363.6C1335.4 364.7 1336.1 380.4 1336.2 382.5C1336.4 384.7 1337.1 389.0 1337.3 389.1C1337.5 389.2 1338.6 384.2 1338.9 383.9C1339.1 383.5 1340.2 385.5 1340.4 385.2C1340.7 384.8 1341.7 381.7 1342.0 379.9C1342.3 378.2 1343.3 366.5 1343.6 364.2C1343.9 361.9 1345.3 353.5 1345.7 352.3C1346.0 351.1 1347.5 348.7 1347.8 349.7C1348.1 350.7 1348.7 361.9 1348.8 364.2C1349.0 366.5 1349.7 376.3 1349.9 377.3C1350.1 378.3 1351.2 375.3 1351.5 376.0C1351.7 376.6 1352.8 384.0 1353.0 385.2C1353.3 386.4 1354.4 390.6 1354.6 390.4C1354.9 390.2 1355.9 383.9 1356.2 382.5C1356.5 381.2 1357.6 375.4 1357.8 374.7C1358.0 373.9 1358.6 372.7 1358.8 373.4C1359.0 374.0 1360.1 380.5 1360.4 382.5C1360.7 384.6 1361.7 396.0 1362.0 398.3C1362.2 400.6 1363.3 410.4 1363.6 410.1C1363.8 409.9 1364.9 397.7 1365.1 395.7C1365.4 393.7 1366.4 386.8 1366.7 386.5C1367.0 386.2 1368.0 390.6 1368.3 391.7C1368.5 392.8 1369.6 398.9 1369.9 399.6C1370.1 400.4 1371.2 402.4 1371.4 400.9C1371.7 399.5 1372.3 385.1 1372.5 382.5C1372.7 380.0 1373.4 369.5 1373.5 369.9C1373.7 370.4 1374.4 385.0 1374.6 387.8C1374.8 390.6 1375.9 401.7 1376.2 403.6C1376.4 405.4 1377.5 409.9 1377.7 410.1C1378.0 410.4 1379.1 407.2 1379.3 406.2C1379.6 405.2 1380.6 399.5 1380.9 398.3C1381.2 397.1 1382.2 392.7 1382.5 391.7C1382.7 390.8 1383.8 387.3 1384.0 386.5C1384.3 385.7 1385.4 382.8 1385.6 382.5C1385.9 382.3 1386.9 383.2 1387.2 383.9C1387.5 384.5 1388.5 389.7 1388.8 390.4C1389.0 391.2 1390.1 392.9 1390.4 393.1C1390.6 393.2 1391.7 391.5 1391.9 391.7C1392.2 392.0 1393.3 396.5 1393.5 395.7C1393.7 394.9 1394.3 384.3 1394.6 382.5C1394.8 380.8 1395.9 375.5 1396.1 374.7C1396.4 373.8 1397.4 372.5 1397.7 372.6C1398.0 372.7 1399.0 375.3 1399.3 376.0C1399.5 376.7 1400.6 379.4 1400.9 381.2C1401.1 383.1 1401.7 395.5 1401.9 398.3C1402.1 401.2 1402.8 415.2 1403.0 415.4C1403.1 415.6 1403.8 402.9 1404.0 400.9C1404.2 399.0 1404.8 392.4 1405.1 391.7C1405.3 391.1 1406.4 392.4 1406.6 393.1C1406.9 393.7 1408.0 398.5 1408.2 399.6C1408.5 400.7 1409.5 404.6 1409.8 406.2C1410.1 407.8 1411.1 418.6 1411.4 419.3C1411.6 420.1 1412.7 415.6 1412.9 415.4C1413.2 415.2 1414.3 416.0 1414.5 416.7C1414.8 417.4 1415.8 422.3 1416.1 423.3C1416.4 424.3 1417.4 427.5 1417.7 428.5C1417.9 429.5 1419.0 435.6 1419.3 435.1C1419.5 434.5 1420.6 423.4 1420.8 422.0C1421.0 420.5 1421.7 416.9 1421.9 418.0C1422.1 419.1 1422.7 432.7 1422.9 435.1C1423.2 437.5 1424.2 445.7 1424.5 446.9C1424.8 448.1 1425.8 449.0 1426.1 449.5C1426.3 450.1 1427.4 452.7 1427.7 453.5C1427.9 454.3 1428.5 458.7 1428.7 458.7C1428.9 458.7 1430.0 454.3 1430.3 453.5C1430.6 452.7 1431.6 449.5 1431.9 449.5C1432.1 449.5 1433.2 452.2 1433.4 453.5C1433.7 454.8 1434.8 465.8 1435.0 465.3C1435.3 464.9 1436.3 450.2 1436.6 448.2C1436.9 446.3 1438.0 441.4 1438.2 441.7C1438.4 441.9 1439.0 449.7 1439.2 450.9C1439.4 452.1 1440.1 456.8 1440.3 456.1C1440.5 455.5 1441.6 444.7 1441.8 443.0C1442.1 441.3 1443.2 435.7 1443.4 435.9C1443.6 436.1 1444.3 443.7 1444.5 445.6C1444.7 447.5 1445.8 457.2 1446.1 458.7C1446.3 460.3 1447.4 464.5 1447.6 464.5C1447.9 464.5 1448.9 459.9 1449.2 458.7C1449.5 457.6 1450.5 452.1 1450.8 450.9C1451.1 449.7 1452.5 445.1 1452.9 444.3C1453.2 443.5 1454.6 441.6 1455.0 441.7C1455.3 441.8 1456.7 444.8 1457.1 445.6C1457.4 446.4 1458.8 449.9 1459.2 450.9C1459.5 451.8 1461.0 457.6 1461.3 457.4C1461.6 457.2 1462.6 450.1 1462.9 448.2C1463.1 446.4 1464.2 436.3 1464.4 435.1C1464.7 433.9 1465.3 432.9 1465.5 433.8C1465.7 434.7 1466.3 443.6 1466.5 445.6C1466.8 447.6 1467.9 456.4 1468.1 457.4C1468.4 458.5 1469.4 458.0 1469.7 458.2C1470.0 458.4 1471.0 460.5 1471.3 460.1C1471.5 459.7 1472.6 454.5 1472.9 453.5C1473.1 452.5 1474.2 448.3 1474.4 448.2C1474.7 448.1 1475.7 451.2 1476.0 452.2C1476.3 453.2 1477.3 460.2 1477.6 460.1C1477.8 459.9 1478.9 452.1 1479.2 450.9C1479.4 449.6 1480.5 445.4 1480.7 445.1C1481.0 444.8 1482.0 447.0 1482.3 446.9C1482.6 446.9 1483.6 444.4 1483.9 444.3C1484.2 444.2 1485.2 445.6 1485.5 445.6C1485.7 445.6 1486.8 444.2 1487.0 444.3C1487.3 444.4 1488.4 446.5 1488.6 446.9C1488.9 447.4 1489.9 449.2 1490.2 449.5C1490.5 449.9 1491.5 452.1 1491.8 450.9C1492.0 449.7 1493.1 437.3 1493.3 435.1C1493.6 432.9 1494.7 424.6 1494.9 424.6C1495.1 424.6 1495.8 433.6 1496.0 435.1C1496.1 436.6 1496.8 443.2 1497.0 443.0C1497.2 442.8 1498.4 433.7 1498.6 432.5C1498.8 431.3 1499.4 427.9 1499.7 428.5C1499.9 429.2 1501.0 439.0 1501.2 440.4C1501.4 441.7 1502.1 445.4 1502.3 444.3C1502.5 443.2 1503.2 428.5 1503.3 427.2C1503.5 425.9 1504.2 427.2 1504.4 428.5C1504.6 429.8 1505.3 441.2 1505.4 443.0C1505.6 444.7 1506.3 450.2 1506.5 449.5C1506.7 448.9 1507.8 437.1 1508.1 435.1C1508.3 433.1 1509.4 425.0 1509.6 425.9C1509.9 426.8 1510.5 443.4 1510.7 445.6C1510.9 447.8 1512.0 453.1 1512.3 452.2C1512.5 451.3 1513.6 437.8 1513.8 435.1C1514.1 432.4 1515.2 421.5 1515.4 419.3C1515.7 417.2 1516.8 409.1 1517.0 409.3C1517.2 409.6 1517.9 419.2 1518.0 422.0C1518.2 424.8 1518.9 441.9 1519.1 443.0C1519.3 444.1 1519.9 437.1 1520.1 435.1C1520.4 433.1 1521.5 420.8 1521.7 419.3C1521.9 417.9 1522.6 416.7 1522.8 418.0C1522.9 419.3 1523.6 432.8 1523.8 435.1C1524.0 437.4 1525.1 445.2 1525.4 445.6C1525.7 446.0 1526.7 441.2 1527.0 440.4C1527.3 439.5 1528.7 435.8 1529.1 435.1C1529.4 434.4 1530.9 431.8 1531.2 432.5C1531.5 433.1 1532.5 441.2 1532.8 443.0C1533.0 444.7 1534.1 453.3 1534.3 453.5C1534.6 453.7 1535.6 447.4 1535.9 445.6C1536.2 443.9 1537.2 434.4 1537.5 432.5C1537.8 430.5 1538.8 423.3 1539.1 422.0C1539.3 420.6 1540.4 416.3 1540.6 416.7C1540.9 417.1 1541.5 425.7 1541.7 427.2C1541.9 428.7 1542.5 435.3 1542.7 435.1C1543.0 434.9 1544.1 426.0 1544.3 424.6C1544.6 423.2 1545.6 418.5 1545.9 418.0C1546.2 417.6 1547.3 417.9 1547.5 419.3C1547.7 420.8 1548.3 433.5 1548.5 435.1C1548.7 436.7 1549.4 439.9 1549.6 439.0C1549.8 438.2 1550.9 426.9 1551.2 424.6C1551.4 422.3 1552.5 412.9 1552.7 411.5C1553.0 410.0 1554.0 407.0 1554.3 406.7C1554.6 406.4 1555.6 406.7 1555.9 407.5C1556.1 408.3 1557.2 415.1 1557.5 416.7C1557.7 418.3 1558.8 426.4 1559.0 427.2C1559.3 428.0 1560.3 426.3 1560.6 425.9C1560.9 425.5 1562.4 422.6 1562.7 422.0C1563.1 421.3 1564.5 418.8 1564.8 418.0C1565.2 417.3 1566.6 413.5 1566.9 412.8C1567.3 412.0 1568.7 409.0 1569.0 409.3C1569.3 409.7 1570.3 415.0 1570.6 416.7C1570.9 418.4 1572.0 428.0 1572.2 429.8C1572.4 431.7 1573.0 438.7 1573.2 439.0C1573.4 439.4 1574.6 434.3 1574.8 433.8C1575.0 433.2 1575.6 431.7 1575.8 432.5C1576.1 433.2 1577.2 441.7 1577.4 443.0C1577.7 444.3 1578.8 447.6 1579.0 448.2C1579.2 448.8 1579.7 450.5 1580.0 450.1C1580.3 449.7 1581.8 445.1 1582.1 443.5C1582.5 441.8 1583.9 433.2 1584.2 430.4C1584.6 427.5 1586.0 411.9 1586.3 409.3C1586.6 406.8 1587.6 400.7 1587.9 400.1C1588.1 399.6 1589.2 401.3 1589.5 402.8C1589.7 404.2 1590.3 415.1 1590.5 417.2C1590.7 419.3 1591.3 426.8 1591.6 427.7C1591.8 428.6 1593.4 428.3 1593.7 428.3C1594.0 428.3 1595.0 427.0 1595.2 427.7C1595.5 428.4 1596.6 435.8 1596.8 436.9C1597.1 438.1 1598.2 443.5 1598.4 441.4C1598.6 439.3 1599.3 415.9 1599.4 412.0C1599.6 408.0 1600.3 395.2 1600.5 394.4C1600.7 393.5 1601.4 399.5 1601.5 401.5C1601.7 403.4 1602.4 416.6 1602.6 417.2C1602.8 417.9 1603.4 410.5 1603.6 409.3C1603.9 408.2 1605.0 404.1 1605.2 403.6C1605.5 403.0 1606.5 402.3 1606.8 402.8C1607.1 403.2 1608.1 407.5 1608.4 409.3C1608.6 411.2 1609.7 425.3 1610.0 425.1C1610.2 424.9 1610.8 408.9 1611.0 406.7C1611.2 404.6 1612.4 398.9 1612.6 399.3C1612.8 399.8 1613.5 409.9 1613.6 412.0C1613.8 414.0 1614.5 422.3 1614.7 423.8C1614.9 425.3 1616.0 429.4 1616.3 430.4C1616.6 431.3 1618.0 435.0 1618.4 435.6C1618.7 436.3 1620.1 438.2 1620.5 438.2C1620.8 438.2 1622.3 436.5 1622.6 435.6C1622.9 434.7 1623.9 429.3 1624.1 427.7C1624.4 426.2 1625.5 419.2 1625.7 417.2C1626.0 415.2 1627.0 405.8 1627.3 404.1C1627.6 402.4 1628.6 397.0 1628.9 396.7C1629.1 396.4 1630.2 399.3 1630.4 400.1C1630.7 401.0 1631.8 405.7 1632.0 406.7C1632.3 407.7 1633.3 411.3 1633.6 412.0C1633.9 412.7 1634.9 414.9 1635.2 415.1C1635.5 415.3 1637.0 415.5 1637.3 414.6C1637.6 413.7 1638.6 406.0 1638.9 404.1C1639.1 402.1 1640.2 392.1 1640.4 390.9C1640.6 389.7 1641.3 388.3 1641.5 389.6C1641.7 390.9 1642.4 405.4 1642.5 406.7C1642.7 408.0 1643.4 404.5 1643.6 405.4C1643.8 406.3 1644.5 415.4 1644.6 417.2C1644.8 419.1 1645.5 426.3 1645.7 427.7C1645.9 429.1 1646.6 434.4 1646.7 433.8C1646.9 433.1 1647.6 422.8 1647.8 419.8C1648.0 416.9 1648.7 401.4 1648.8 398.8C1649.0 396.2 1649.7 389.3 1649.9 388.8C1650.1 388.4 1650.8 391.9 1650.9 393.6C1651.1 395.3 1651.8 406.5 1652.0 409.3C1652.2 412.2 1652.9 425.6 1653.0 427.7C1653.2 429.8 1653.9 435.0 1654.1 434.8C1654.3 434.6 1655.0 426.2 1655.1 425.1C1655.3 424.0 1656.0 420.9 1656.2 421.2C1656.4 421.4 1657.1 427.0 1657.2 427.7C1657.4 428.5 1658.1 430.6 1658.3 430.4C1658.5 430.1 1659.6 426.6 1659.9 425.1C1660.1 423.6 1661.2 413.6 1661.5 412.0C1661.7 410.3 1662.3 405.9 1662.5 405.4C1662.7 404.8 1663.8 405.9 1664.1 405.4C1664.3 404.8 1665.4 400.1 1665.7 398.8C1665.9 397.5 1666.5 390.6 1666.7 389.6C1666.9 388.7 1667.6 386.8 1667.8 387.5C1667.9 388.3 1668.6 397.0 1668.8 398.8C1669.0 400.6 1669.7 408.3 1669.9 409.3C1670.0 410.4 1670.7 411.9 1670.9 411.4C1671.1 411.0 1671.8 405.8 1672.0 404.1C1672.1 402.4 1672.8 393.1 1673.0 390.9C1673.2 388.8 1673.9 379.2 1674.1 377.8C1674.2 376.4 1674.9 374.0 1675.1 373.9C1675.3 373.8 1676.0 375.3 1676.2 376.5C1676.3 377.7 1677.0 386.8 1677.2 388.3C1677.4 389.8 1678.6 395.1 1678.8 394.9C1679.0 394.7 1679.6 387.5 1679.8 385.7C1680.1 383.8 1681.2 373.9 1681.4 372.5C1681.7 371.2 1682.8 369.1 1683.0 369.1C1683.2 369.1 1683.9 371.2 1684.0 372.5C1684.2 373.9 1684.9 383.3 1685.1 385.7C1685.3 388.1 1686.4 398.8 1686.7 401.5C1686.9 404.1 1688.0 415.1 1688.3 417.2C1688.5 419.3 1689.6 425.6 1689.8 426.4C1690.1 427.2 1691.2 428.2 1691.4 427.2C1691.6 426.2 1692.3 416.7 1692.5 414.6C1692.6 412.4 1693.3 402.8 1693.5 401.5C1693.7 400.1 1694.8 398.6 1695.1 398.3C1695.4 398.0 1696.8 397.6 1697.2 397.5C1697.5 397.4 1699.0 396.9 1699.3 397.0C1699.6 397.1 1700.6 399.3 1700.9 398.8C1701.1 398.3 1701.7 391.9 1701.9 390.9C1702.1 390.0 1703.2 387.2 1703.5 387.0C1703.8 386.8 1704.8 388.6 1705.1 388.8C1705.3 389.1 1706.4 389.7 1706.6 389.6C1706.9 389.6 1708.0 388.3 1708.2 388.3C1708.5 388.3 1709.6 390.1 1709.8 389.6C1710.0 389.2 1710.7 383.9 1710.8 383.1C1711.0 382.2 1711.7 379.5 1711.9 379.9C1712.1 380.3 1712.7 387.4 1712.9 388.3C1713.2 389.2 1714.3 390.4 1714.5 390.4C1714.8 390.5 1715.8 389.6 1716.1 388.8C1716.4 388.1 1717.5 382.4 1717.7 381.7C1717.9 381.0 1718.5 380.0 1718.7 380.4C1718.9 380.9 1720.0 386.2 1720.3 387.0C1720.6 387.8 1721.6 390.8 1721.9 389.6C1722.1 388.4 1723.2 375.1 1723.5 372.5C1723.7 370.0 1724.8 361.1 1725.0 359.4C1725.3 357.8 1726.3 353.7 1726.6 352.8C1726.9 352.0 1727.9 349.8 1728.2 348.9C1728.4 348.0 1729.5 341.9 1729.8 342.3C1730.0 342.8 1730.6 352.3 1730.8 354.2C1731.0 356.0 1731.6 364.1 1731.9 364.7C1732.1 365.2 1733.2 361.1 1733.4 360.7C1733.7 360.4 1734.8 360.8 1735.0 360.7C1735.3 360.6 1736.3 360.0 1736.6 359.4C1736.9 358.9 1737.9 355.3 1738.2 354.2C1738.4 353.1 1739.5 347.6 1739.7 346.3C1740.0 345.0 1741.1 338.9 1741.3 338.4C1741.5 337.8 1742.2 338.7 1742.4 339.7C1742.6 340.7 1743.2 348.9 1743.4 350.2C1743.6 351.5 1744.7 355.0 1745.0 355.5C1745.3 356.0 1746.3 355.8 1746.6 356.3C1746.8 356.7 1747.9 360.9 1748.2 360.7C1748.4 360.6 1749.5 355.4 1749.7 354.2C1750.0 353.0 1751.0 347.4 1751.3 346.3C1751.6 345.1 1752.7 340.9 1752.9 340.5C1753.1 340.1 1753.8 340.3 1753.9 341.0C1754.1 341.7 1754.8 347.8 1755.0 348.9C1755.2 350.0 1756.3 353.5 1756.6 354.2C1756.8 354.8 1757.9 356.9 1758.1 356.8C1758.4 356.7 1759.5 353.1 1759.7 352.8C1760.0 352.6 1761.0 353.5 1761.3 354.2C1761.6 354.8 1762.7 360.0 1762.9 360.7C1763.1 361.5 1763.7 364.6 1763.9 363.4C1764.1 362.1 1764.8 348.6 1765.0 346.3C1765.1 344.0 1765.8 336.7 1766.0 335.8C1766.2 334.8 1766.9 334.2 1767.1 334.5C1767.2 334.7 1767.9 336.3 1768.1 338.4C1768.3 340.5 1769.0 355.9 1769.2 359.4C1769.4 362.9 1770.0 377.7 1770.2 380.4C1770.4 383.2 1771.5 391.1 1771.8 392.3C1772.1 393.4 1773.2 394.4 1773.4 394.1C1773.6 393.8 1774.3 389.8 1774.4 388.3C1774.6 386.8 1775.3 376.8 1775.5 375.7C1775.7 374.6 1776.8 375.9 1777.1 375.2C1777.3 374.5 1778.4 368.8 1778.6 367.3C1778.9 365.8 1780.0 358.2 1780.2 357.6C1780.4 356.9 1781.1 357.9 1781.3 359.4C1781.4 360.9 1782.1 373.1 1782.3 375.2C1782.5 377.2 1783.1 383.8 1783.4 383.8C1783.6 383.8 1784.7 376.1 1784.9 375.2C1785.2 374.2 1786.3 373.0 1786.5 372.5C1786.8 372.1 1787.8 370.7 1788.1 369.9C1788.4 369.2 1789.4 364.7 1789.7 363.4C1789.9 362.0 1791.0 354.5 1791.2 353.6C1791.5 352.8 1792.1 352.4 1792.3 352.8C1792.5 353.3 1793.1 358.2 1793.3 359.4C1793.6 360.6 1794.7 367.0 1794.9 367.3C1795.2 367.6 1796.3 364.6 1796.5 363.4C1796.7 362.1 1797.4 353.9 1797.6 352.8C1797.7 351.8 1798.4 350.2 1798.6 351.0C1798.8 351.8 1799.5 359.9 1799.7 362.0C1799.8 364.2 1800.5 375.6 1800.7 376.5C1800.9 377.4 1801.6 374.2 1801.8 372.5C1801.9 370.9 1802.6 359.1 1802.8 356.8C1803.0 354.5 1803.6 346.2 1803.9 345.0C1804.1 343.8 1805.2 342.2 1805.4 342.3C1805.7 342.4 1806.3 344.4 1806.5 346.3C1806.7 348.1 1807.4 362.5 1807.5 364.7C1807.7 366.9 1808.4 372.8 1808.6 372.5C1808.8 372.3 1809.4 364.0 1809.6 362.0C1809.9 360.1 1811.0 350.5 1811.2 348.9C1811.5 347.3 1812.5 343.2 1812.8 342.3C1813.1 341.5 1814.1 338.8 1814.4 338.4C1814.7 338.0 1816.1 337.0 1816.5 337.1C1816.8 337.1 1818.3 338.3 1818.6 338.9C1818.9 339.6 1819.9 343.8 1820.1 345.0C1820.4 346.1 1821.5 352.5 1821.7 352.8C1822.0 353.2 1823.1 349.4 1823.3 348.9C1823.5 348.4 1824.2 345.6 1824.4 346.3C1824.5 346.9 1825.2 354.6 1825.4 356.8C1825.6 359.0 1826.7 370.1 1827.0 372.5C1827.2 375.0 1828.3 383.9 1828.6 385.7C1828.8 387.4 1829.4 394.0 1829.6 393.6C1829.8 393.1 1830.9 383.1 1831.2 380.4C1831.4 377.8 1832.5 365.0 1832.8 362.0C1833.0 359.1 1834.1 347.2 1834.3 345.0C1834.6 342.8 1835.7 336.2 1835.9 335.8C1836.1 335.3 1836.7 339.2 1837.0 339.7C1837.2 340.3 1838.3 342.0 1838.5 342.3C1838.8 342.7 1839.9 342.7 1840.1 343.6C1840.3 344.6 1841.0 352.4 1841.2 354.2C1841.3 355.9 1842.0 364.1 1842.2 364.1C1842.4 364.1 1843.5 355.8 1843.8 354.2C1844.1 352.6 1845.1 345.5 1845.4 345.0C1845.6 344.4 1846.7 347.1 1846.9 347.6C1847.2 348.1 1848.2 350.9 1848.5 351.0C1848.8 351.1 1850.3 349.3 1850.6 348.9C1851.0 348.5 1852.4 346.7 1852.7 346.3C1853.0 345.8 1854.1 344.0 1854.3 343.6C1854.5 343.3 1855.2 341.9 1855.4 342.3C1855.5 342.8 1856.2 347.4 1856.4 348.9C1856.6 350.4 1857.8 360.5 1858.0 360.7C1858.2 360.9 1858.9 352.8 1859.0 351.5C1859.2 350.2 1859.8 345.8 1860.0 345.0C1860.2 344.3 1861.7 342.9 1862.0 342.5C1862.3 342.1 1863.7 339.6 1864.0 340.0C1864.3 340.4 1865.2 346.4 1865.5 347.5C1865.8 348.7 1867.1 352.8 1867.5 353.8C1867.9 354.7 1869.6 358.3 1870.0 358.8C1870.5 359.3 1872.6 359.5 1873.0 359.5C1873.4 359.6 1874.8 360.5 1875.0 359.5C1875.3 358.5 1875.8 348.9 1876.0 347.5C1876.2 346.1 1877.2 343.4 1877.5 343.0C1877.8 342.6 1879.3 341.5 1879.5 342.5C1879.8 343.5 1880.4 352.7 1880.5 355.0C1880.7 357.3 1881.3 368.5 1881.5 370.0C1881.8 371.5 1883.2 372.9 1883.5 373.0C1883.9 373.1 1885.2 371.9 1885.5 371.3C1885.8 370.7 1886.8 365.8 1887.0 366.3C1887.2 366.8 1887.9 375.9 1888.0 377.5C1888.2 379.2 1888.8 385.1 1889.0 385.6C1889.3 386.0 1890.7 383.6 1891.0 382.6C1891.4 381.5 1892.7 374.2 1893.0 372.5C1893.4 370.9 1894.8 363.9 1895.0 362.5C1895.3 361.2 1896.3 356.1 1896.5 356.3C1896.8 356.5 1897.4 362.3 1897.5 365.0C1897.7 367.7 1898.4 387.6 1898.5 388.8C1898.7 390.1 1899.4 381.0 1899.5 380.1C1899.7 379.1 1900.4 378.6 1900.6 377.5C1900.7 376.5 1901.4 367.3 1901.6 367.5C1901.7 367.7 1901.9 377.5 1902.1 380.1C1902.2 382.6 1902.8 395.1 1903.1 397.6C1903.3 400.0 1904.8 409.4 1905.1 409.6C1905.3 409.8 1905.8 402.5 1906.1 400.1C1906.3 397.6 1907.3 382.7 1907.6 380.1C1907.8 377.4 1908.9 368.0 1909.1 368.0C1909.3 368.0 1909.9 377.3 1910.1 380.1C1910.2 382.8 1910.4 400.5 1910.6 401.3C1910.7 402.2 1911.4 391.4 1911.6 390.1C1911.7 388.7 1912.4 386.1 1912.6 385.1C1912.8 384.0 1913.9 377.1 1914.1 377.5C1914.3 378.0 1914.9 388.3 1915.1 390.1C1915.2 391.8 1915.4 398.6 1915.6 398.8C1915.7 399.0 1916.4 393.4 1916.6 392.6C1916.8 391.7 1917.9 387.8 1918.1 388.8C1918.3 389.9 1918.9 402.1 1919.1 405.1C1919.2 408.1 1919.9 423.8 1920.1 424.6C1920.3 425.4 1921.3 416.7 1921.6 415.1C1921.8 413.5 1922.8 406.4 1923.1 405.1C1923.3 403.7 1924.3 398.6 1924.6 398.8C1924.8 399.0 1925.8 405.9 1926.1 407.6C1926.3 409.3 1927.3 417.6 1927.6 418.8C1927.9 420.1 1929.7 422.0 1930.1 422.6C1930.5 423.2 1932.3 425.5 1932.6 426.4C1932.9 427.2 1933.9 431.1 1934.1 432.6C1934.3 434.2 1934.9 443.0 1935.1 445.1C1935.3 447.3 1935.9 458.6 1936.1 458.1C1936.3 457.7 1936.9 443.1 1937.1 440.1C1937.3 437.2 1937.9 424.9 1938.1 422.6C1938.3 420.3 1938.8 413.4 1939.1 412.6C1939.3 411.8 1940.7 412.6 1941.1 412.6C1941.5 412.5 1943.3 412.1 1943.6 412.1C1943.9 412.1 1944.9 413.2 1945.1 412.6C1945.3 412.0 1945.9 406.3 1946.1 405.1C1946.3 403.9 1946.9 397.5 1947.1 398.3C1947.3 399.2 1947.9 411.6 1948.1 415.1C1948.3 418.6 1948.9 436.3 1949.1 440.1C1949.3 443.9 1949.9 460.7 1950.1 460.7C1950.3 460.7 1950.9 443.9 1951.1 440.1C1951.3 436.3 1951.9 418.4 1952.1 415.1C1952.3 411.8 1953.4 401.5 1953.6 400.1C1953.8 398.7 1954.4 397.9 1954.6 398.3C1954.8 398.7 1955.9 403.9 1956.1 405.1C1956.4 406.3 1957.4 411.2 1957.6 412.6C1957.9 413.9 1958.8 420.8 1959.1 421.4C1959.4 421.9 1960.8 418.7 1961.1 419.6C1961.4 420.5 1962.4 430.9 1962.6 432.6C1962.9 434.3 1963.9 438.8 1964.1 440.1C1964.4 441.4 1965.4 448.6 1965.6 448.1C1965.9 447.7 1966.9 437.2 1967.1 435.1C1967.4 433.0 1968.4 424.3 1968.6 422.6C1968.9 420.9 1969.9 415.1 1970.1 414.6C1970.4 414.1 1971.4 416.0 1971.6 416.3C1971.9 416.7 1972.8 418.6 1973.1 418.8C1973.5 419.1 1975.4 417.1 1975.6 418.8C1975.9 420.6 1976.4 436.9 1976.6 440.1C1976.9 443.4 1977.9 455.5 1978.1 457.6C1978.4 459.8 1979.9 465.9 1980.2 465.9C1980.4 465.9 1981.4 459.2 1981.7 457.6C1981.9 456.1 1982.9 449.3 1983.2 447.6C1983.4 446.0 1984.4 438.8 1984.7 437.6C1984.9 436.5 1985.4 433.2 1985.7 433.9C1985.9 434.5 1986.9 443.4 1987.2 445.1C1987.4 446.9 1988.4 453.9 1988.7 455.1C1988.9 456.4 1989.9 460.0 1990.2 460.2C1990.5 460.3 1991.8 457.0 1992.2 456.4C1992.5 455.8 1993.8 453.3 1994.2 452.6C1994.5 452.0 1995.8 449.6 1996.2 448.9C1996.5 448.2 1997.9 445.0 1998.2 444.6C1998.4 444.2 1999.0 443.0 1999.2 443.9C1999.3 444.8 2000.0 453.5 2000.2 455.1C2000.3 456.8 2001.0 463.7 2001.2 463.9C2001.4 464.1 2002.5 458.6 2002.7 457.6C2002.9 456.7 2003.5 452.5 2003.7 452.6C2003.8 452.7 2004.4 458.1 2004.7 458.9C2004.9 459.7 2006.5 462.3 2006.7 462.7" stroke="#f53cc4" stroke-width="1.65" fill="none" stroke-linejoin="round"/>
<path d="M153.1 291.2C153.8 290.0 156.9 283.8 158.4 282.0C159.9 280.1 163.5 277.1 165.0 276.2C166.4 275.3 168.9 274.7 170.2 274.6C171.5 274.5 174.3 276.5 175.5 275.7C176.6 274.8 178.3 269.3 179.4 267.5C180.6 265.7 183.4 262.1 184.7 260.9C186.0 259.8 188.6 258.2 189.9 258.1C191.2 257.9 193.8 258.9 195.2 259.6C196.6 260.3 199.7 262.4 201.0 263.6C202.2 264.7 204.3 267.3 205.2 268.8C206.0 270.3 207.2 274.8 207.8 275.4C208.3 276.0 209.1 276.0 209.6 273.6C210.2 271.1 211.6 258.8 212.3 255.7C212.9 252.5 214.2 249.4 214.9 248.3C215.5 247.2 216.9 246.8 217.5 247.0C218.2 247.2 219.5 249.2 220.1 249.9C220.8 250.7 222.0 252.8 222.8 253.1C223.5 253.4 225.4 252.8 226.2 252.3C227.0 251.7 228.6 249.3 229.3 248.9C230.1 248.4 231.3 248.3 232.0 248.9C232.6 249.4 233.6 251.1 234.6 253.1C235.6 255.1 238.5 262.1 239.8 264.9C241.2 267.7 243.8 272.8 245.1 275.4C246.3 278.0 248.8 282.8 249.8 285.9C250.9 289.0 252.6 298.3 253.5 300.4C254.4 302.4 256.1 301.8 256.9 302.5C257.8 303.1 259.7 305.7 260.3 305.6C261.0 305.5 261.6 304.0 262.2 301.7C262.7 299.4 264.1 290.7 264.8 287.2C265.5 283.8 266.6 276.8 267.4 274.1C268.3 271.4 270.6 266.8 271.4 265.4C272.2 264.0 273.5 263.0 274.0 263.0C274.5 263.1 275.0 266.9 275.3 265.7C275.6 264.4 276.1 256.1 276.6 253.1C277.1 250.0 278.5 243.3 279.3 241.2C280.0 239.2 281.7 237.0 282.4 236.8C283.1 236.5 284.3 237.9 285.0 239.4C285.8 240.9 287.7 246.3 288.4 249.1C289.2 252.0 290.3 258.8 291.1 262.3C291.8 265.7 293.7 272.4 294.5 276.7C295.2 281.0 296.3 293.0 297.1 296.4C297.9 299.9 299.9 302.2 300.8 304.3C301.7 306.4 303.4 310.4 304.2 313.5C305.0 316.5 306.5 326.8 307.4 328.7C308.3 330.7 310.3 328.8 311.3 329.3C312.3 329.7 314.7 332.7 315.5 332.4C316.4 332.1 317.5 328.0 318.1 327.2C318.7 326.3 319.7 325.6 320.2 325.8C320.8 326.1 321.9 327.7 322.6 329.3C323.3 330.8 325.4 338.0 326.0 338.4C326.7 338.9 327.3 334.5 327.9 333.2C328.4 331.9 329.9 328.9 330.5 327.9C331.1 327.0 332.1 327.4 332.6 325.3C333.1 323.2 333.9 315.3 334.4 310.9C335.0 306.4 336.3 294.4 337.1 289.8C337.8 285.2 339.5 276.8 340.2 274.1C340.9 271.4 342.2 268.9 342.8 268.0C343.5 267.2 344.9 267.2 345.5 267.5C346.1 267.8 347.0 268.2 347.6 270.1C348.1 272.1 349.1 279.5 349.7 283.3C350.2 287.1 351.2 299.0 351.8 300.4C352.3 301.7 353.3 295.1 353.9 294.3C354.4 293.5 355.4 293.4 356.0 293.8C356.5 294.2 357.6 295.8 358.1 297.7C358.6 299.7 359.5 307.1 360.2 309.5C360.8 312.0 362.6 314.0 363.3 317.4C364.1 320.9 365.3 332.0 366.0 337.1C366.6 342.2 367.9 353.4 368.6 358.2C369.2 362.9 370.7 371.9 371.2 375.2C371.7 378.6 372.1 385.0 372.5 385.0C372.9 385.0 373.7 377.8 374.4 375.2C375.0 372.7 377.0 367.7 377.8 364.7C378.5 361.8 379.8 355.0 380.4 351.6C381.1 348.1 382.4 339.9 383.0 337.1C383.7 334.4 385.2 330.5 385.7 329.8C386.1 329.1 386.0 331.3 386.6 331.3C387.1 331.3 389.2 329.7 390.0 330.0C390.7 330.3 392.0 331.6 392.6 333.9C393.3 336.2 394.6 344.5 395.2 348.4C395.9 352.3 397.3 362.5 397.9 365.5C398.4 368.4 399.4 368.6 399.7 372.0C400.0 375.5 400.2 389.1 400.5 393.1C400.8 397.1 401.8 402.9 402.3 404.1C402.8 405.2 403.9 404.0 404.4 402.3C404.9 400.5 405.7 392.9 406.3 390.4C406.9 388.0 408.6 383.8 409.4 382.5C410.2 381.3 412.0 380.3 412.8 380.4C413.7 380.6 415.6 382.0 416.3 383.9C416.9 385.8 417.6 393.3 418.1 395.7C418.6 398.1 419.4 402.5 419.9 403.0C420.5 403.5 421.8 400.2 422.6 399.6C423.3 399.1 425.1 399.0 426.0 398.8C426.9 398.7 429.1 399.1 429.9 398.3C430.7 397.5 432.0 393.5 432.5 392.5C433.1 391.6 434.1 390.7 434.7 391.0C435.2 391.2 436.7 394.0 437.3 394.4C437.8 394.7 438.4 394.9 439.1 393.6C439.8 392.3 442.1 386.1 443.1 383.9C444.0 381.7 446.1 377.2 447.0 376.0C447.9 374.7 449.6 373.5 450.4 373.9C451.2 374.2 452.8 376.2 453.6 378.6C454.3 381.0 455.6 388.6 456.2 393.1C456.8 397.5 457.8 410.0 458.3 414.1C458.8 418.2 459.5 425.6 459.9 425.9C460.3 426.2 461.0 421.5 461.5 416.7C461.9 411.9 463.0 393.9 463.6 387.8C464.1 381.7 465.1 371.3 465.7 368.1C466.2 364.9 467.6 362.5 468.3 362.3C469.0 362.2 470.7 363.9 471.4 366.8C472.2 369.6 473.4 379.9 474.1 385.2C474.7 390.4 476.0 403.6 476.7 408.8C477.3 414.1 478.7 424.3 479.3 427.2C480.0 430.1 481.3 431.8 481.9 431.9C482.6 432.1 483.8 430.8 484.6 428.5C485.3 426.3 486.9 418.2 487.7 414.1C488.5 410.0 490.1 399.8 490.9 395.7C491.7 391.6 493.2 383.4 494.0 381.2C494.8 379.1 496.5 378.4 497.2 378.6C497.9 378.8 499.2 379.4 499.8 382.5C500.4 385.7 501.5 398.3 501.9 403.6C502.4 408.8 503.0 421.0 503.5 424.6C503.9 428.2 505.1 432.0 505.6 432.5C506.1 433.0 507.2 431.2 507.7 428.5C508.2 425.9 508.8 415.2 509.3 411.5C509.7 407.7 510.7 400.7 511.4 398.3C512.0 395.9 513.8 392.6 514.5 392.3C515.2 391.9 516.6 393.3 517.2 395.7C517.7 398.1 518.8 407.5 519.3 411.5C519.7 415.4 520.7 424.6 521.1 427.2C521.5 429.8 522.0 433.0 522.4 432.5C522.8 432.0 523.9 426.2 524.5 423.3C525.1 420.3 526.4 412.6 527.1 408.8C527.9 405.0 529.5 396.7 530.3 393.1C531.1 389.4 532.9 381.1 533.7 379.9C534.6 378.8 536.2 382.4 537.1 383.9C538.0 385.3 539.9 389.4 540.8 391.7C541.7 394.0 543.5 398.8 544.2 402.3C545.0 405.7 546.3 414.6 546.8 419.3C547.3 424.1 547.8 436.7 548.2 440.4C548.5 444.0 549.0 448.4 549.5 448.8C550.0 449.1 551.4 444.9 552.1 443.0C552.8 441.1 554.1 435.3 554.7 433.8C555.4 432.3 556.8 431.2 557.4 431.2C557.9 431.2 559.0 432.3 559.5 433.8C559.9 435.3 560.7 441.6 561.3 443.0C561.9 444.4 563.4 445.4 563.9 445.1C564.4 444.8 565.2 442.7 565.5 440.4C565.8 438.1 566.2 427.5 566.5 426.7C566.9 425.9 567.7 431.3 568.1 433.8C568.5 436.3 569.3 444.6 569.7 446.9C570.1 449.2 570.9 452.5 571.3 452.2C571.7 451.8 572.4 446.6 572.9 444.3C573.3 442.0 574.4 435.4 575.0 433.8C575.5 432.1 576.5 431.0 577.1 431.2C577.6 431.3 578.7 433.3 579.2 435.1C579.6 436.9 580.3 443.9 580.7 445.6C581.1 447.3 581.9 449.4 582.3 448.8C582.8 448.1 583.9 441.1 584.4 440.4C584.9 439.6 586.1 442.3 586.5 443.0C587.0 443.6 587.6 445.6 588.1 445.6C588.6 445.6 589.6 444.3 590.2 443.0C590.8 441.7 592.2 436.7 592.8 435.1C593.5 433.5 594.9 429.3 595.4 429.8C596.0 430.4 596.7 439.2 597.0 439.8C597.4 440.5 597.7 439.0 598.1 435.1C598.5 431.2 599.6 415.4 600.2 408.8C600.8 402.3 602.1 386.8 602.8 382.5C603.5 378.3 604.8 375.8 605.4 375.2C606.1 374.5 607.5 374.7 608.1 377.3C608.7 379.9 609.7 390.4 610.2 395.7C610.6 400.9 611.4 414.9 611.7 419.3C612.1 423.8 612.4 430.8 612.8 431.2C613.2 431.5 614.4 425.4 614.9 422.0C615.4 418.5 616.5 408.0 617.0 403.6C617.5 399.1 618.6 388.9 619.1 386.5C619.6 384.1 620.3 383.6 620.7 384.4C621.1 385.2 621.9 390.0 622.2 393.1C622.6 396.1 623.4 405.2 623.8 408.8C624.2 412.4 625.0 422.0 625.4 422.0C625.8 422.0 626.5 410.6 627.0 408.8C627.4 407.0 628.6 406.5 629.1 407.5C629.6 408.5 630.6 413.3 631.2 416.7C631.8 420.2 633.2 429.8 633.8 435.1C634.4 440.4 635.5 454.1 635.9 458.7C636.4 463.3 637.0 471.7 637.5 471.9C637.9 472.0 639.1 461.6 639.6 460.1C640.1 458.5 641.2 458.4 641.7 459.3C642.2 460.1 643.2 464.4 643.8 466.6C644.4 468.9 645.8 475.2 646.4 477.1C647.1 479.0 648.5 482.5 649.0 481.9C649.6 481.2 650.6 474.8 651.2 471.9C651.7 469.0 653.1 460.9 653.8 458.7C654.4 456.5 655.7 453.9 656.4 454.3C657.1 454.6 658.4 458.8 659.0 461.4C659.7 463.9 661.1 472.0 661.7 474.5C662.2 477.0 662.8 482.1 663.2 481.1C663.7 480.1 664.7 470.7 665.3 466.6C665.9 462.5 667.4 451.6 668.0 448.2C668.6 444.9 669.6 440.2 670.1 439.8C670.5 439.5 671.3 443.7 671.6 445.6C672.0 447.5 672.8 457.8 673.2 454.8C673.6 451.8 674.3 428.5 674.8 422.0C675.3 415.4 676.2 405.7 676.9 402.3C677.5 398.8 679.3 395.0 680.0 394.4C680.7 393.7 682.0 395.5 682.6 397.0C683.2 398.5 684.2 403.2 684.7 406.2C685.3 409.2 686.2 418.0 686.8 420.6C687.4 423.3 688.7 427.0 689.5 427.7C690.2 428.5 691.9 426.2 692.6 426.4C693.3 426.7 694.6 428.1 695.2 429.8C695.9 431.6 697.2 437.1 697.9 440.4C698.5 443.6 699.9 452.7 700.5 456.1C701.1 459.6 702.2 466.1 702.6 467.9C703.0 469.7 703.3 473.4 703.6 470.6C704.0 467.8 704.8 450.4 705.2 445.6C705.6 440.8 706.4 434.3 706.8 432.5C707.2 430.7 707.9 430.5 708.4 431.2C708.8 431.8 709.7 435.3 710.2 437.7C710.8 440.2 712.1 447.9 712.8 450.9C713.6 453.8 715.6 460.4 716.3 461.4C716.9 462.4 717.9 460.1 718.4 458.7C718.8 457.4 719.5 451.7 719.9 450.9C720.3 450.0 721.1 450.9 721.5 452.2C722.0 453.5 723.0 459.1 723.6 461.4C724.2 463.7 725.6 469.1 726.2 470.6C726.9 472.0 728.2 473.4 728.9 473.2C729.5 473.0 730.9 470.7 731.5 469.3C732.1 467.8 733.2 465.0 733.6 461.4C734.0 457.8 734.5 448.6 734.7 440.4C734.8 432.1 735.0 405.4 735.2 395.7C735.4 386.0 735.9 366.1 736.2 362.8C736.6 359.6 737.4 367.9 737.8 369.4C738.2 370.9 739.0 374.1 739.4 374.7C739.8 375.3 740.6 375.8 741.0 374.1C741.4 372.5 742.1 364.0 742.5 361.5C742.9 359.0 743.7 355.3 744.1 354.2C744.5 353.0 745.2 352.3 745.7 352.3C746.1 352.3 747.3 352.7 747.8 354.2C748.3 355.7 749.4 360.6 749.9 364.2C750.3 367.7 751.1 378.3 751.5 382.5C751.9 386.8 752.6 395.4 753.0 398.3C753.4 401.3 754.4 405.2 754.6 406.2M754.6 406.2C754.7 408.6 755.1 430.8 755.1 435.1C755.2 439.4 755.5 456.5 755.7 458.2C755.9 460.0 757.4 456.9 757.8 456.1C758.1 455.3 759.5 449.5 759.9 448.2C760.2 447.0 761.7 441.4 762.0 441.1C762.3 440.9 763.2 444.1 763.6 445.6C763.9 447.1 765.3 458.7 765.7 458.7C766.0 458.7 767.0 446.9 767.2 445.6C767.5 444.3 768.5 442.3 768.8 443.0C769.1 443.6 770.2 452.3 770.4 453.5C770.6 454.7 771.2 458.1 771.4 457.4C771.7 456.8 772.7 447.2 773.0 445.6C773.4 444.0 775.2 438.8 775.6 437.7C776.1 436.6 777.9 433.1 778.3 432.5C778.7 431.9 780.0 430.3 780.4 430.6C780.7 431.0 782.2 436.0 782.5 436.4C782.8 436.8 783.7 435.3 784.0 435.9C784.4 436.4 785.8 441.8 786.1 443.0C786.5 444.1 788.4 449.1 788.8 449.5C789.2 450.0 790.6 447.9 790.9 448.2C791.1 448.6 791.7 453.2 791.9 453.5C792.2 453.8 793.7 452.5 794.0 452.2C794.4 451.8 795.8 449.4 796.1 449.5C796.5 449.7 797.9 452.9 798.2 453.5C798.5 454.0 799.5 457.0 799.8 456.1C800.1 455.2 801.1 445.0 801.4 443.0C801.7 441.0 803.1 433.7 803.5 432.5C803.8 431.2 805.2 427.8 805.6 427.7C805.9 427.6 807.4 429.7 807.7 431.2C808.0 432.6 808.6 443.1 808.7 445.6C808.9 448.1 809.6 461.8 809.8 461.4C810.0 460.9 811.1 443.6 811.4 440.4C811.7 437.1 813.2 424.1 813.5 422.0C813.8 419.8 814.8 415.2 815.0 414.6C815.3 414.1 816.4 414.7 816.6 415.4C816.8 416.1 817.5 423.8 817.7 423.3C817.9 422.7 819.0 410.4 819.3 408.8C819.5 407.3 820.6 404.4 820.8 404.9C821.1 405.3 822.1 412.0 822.4 414.1C822.7 416.2 823.7 427.4 824.0 429.8C824.2 432.3 825.3 440.6 825.6 443.0C825.8 445.4 826.9 457.9 827.1 458.7C827.4 459.6 828.4 454.0 828.7 453.5C829.0 452.9 830.1 451.3 830.3 452.2C830.5 453.1 831.2 462.0 831.3 464.0C831.5 466.0 832.2 476.5 832.4 475.8C832.6 475.2 833.7 459.7 834.0 456.1C834.2 452.5 835.3 436.0 835.5 432.5C835.8 428.9 836.9 415.1 837.1 413.6C837.4 412.0 838.4 413.4 838.7 414.1C839.0 414.8 840.0 420.5 840.3 422.0C840.5 423.4 841.6 430.9 841.8 431.2C842.1 431.4 843.2 425.4 843.4 424.6C843.7 423.8 844.7 420.8 845.0 422.0C845.3 423.2 846.4 439.5 846.6 439.0C846.8 438.6 847.4 419.7 847.6 416.7C847.8 413.7 848.9 405.1 849.2 403.6C849.5 402.0 851.0 397.9 851.3 397.8C851.7 397.7 853.1 400.5 853.4 402.3C853.7 404.0 854.8 416.4 855.0 419.3C855.2 422.3 855.9 437.5 856.0 437.7C856.2 437.9 856.9 424.4 857.1 422.0C857.3 419.6 858.4 409.0 858.7 408.8C858.9 408.6 859.6 416.0 859.7 419.3C859.8 422.6 860.1 444.1 860.2 448.2C860.4 452.4 861.1 466.8 861.3 469.3C861.5 471.7 862.7 476.0 862.9 477.1C863.1 478.3 863.7 483.6 863.9 483.2C864.1 482.7 864.8 474.6 865.0 471.9C865.1 469.2 865.8 453.3 866.0 450.9C866.2 448.5 866.9 443.4 867.1 443.0C867.3 442.5 868.3 445.0 868.6 445.6C869.0 446.3 870.4 449.8 870.8 450.9C871.1 452.0 872.5 457.4 872.9 458.7C873.2 460.1 874.2 466.8 874.4 466.6C874.7 466.4 875.8 457.6 876.0 456.1C876.2 454.6 876.8 448.7 877.1 448.2C877.3 447.8 878.3 450.6 878.6 450.9C878.9 451.1 880.4 451.6 880.7 451.4C881.1 451.2 882.5 449.6 882.8 448.2C883.1 446.9 884.2 437.5 884.4 435.1C884.7 432.7 885.7 421.0 886.0 419.3C886.3 417.7 887.7 415.5 888.1 415.4C888.4 415.3 889.8 416.8 890.2 418.0C890.5 419.2 892.0 427.3 892.3 429.8C892.6 432.4 893.7 445.2 893.9 448.2C894.1 451.3 894.7 464.0 894.9 466.6C895.1 469.2 896.2 478.8 896.5 479.2C896.8 479.7 897.9 473.4 898.1 471.9C898.3 470.4 899.0 460.8 899.1 461.4C899.3 461.9 900.0 478.0 900.2 478.4C900.4 478.9 901.5 469.8 901.8 466.6C902.0 463.5 902.6 443.9 902.8 440.4C903.0 436.8 904.1 426.3 904.4 424.6C904.7 422.8 906.2 418.9 906.5 419.3C906.8 419.8 907.8 427.7 908.1 429.8C908.3 432.0 909.3 444.2 909.6 445.6C909.9 447.0 911.4 447.4 911.7 446.9C912.0 446.5 913.1 442.7 913.3 440.4C913.6 438.1 914.6 422.4 914.9 419.3C915.2 416.3 916.2 404.4 916.5 403.6C916.7 402.7 917.8 407.3 918.0 408.8C918.3 410.4 918.9 418.8 919.1 422.0C919.3 425.1 920.0 446.3 920.1 446.9C920.3 447.6 920.9 433.2 921.2 429.8C921.5 426.4 922.9 409.7 923.3 406.2C923.7 402.7 925.1 390.3 925.4 387.8C925.8 385.3 927.2 377.2 927.5 376.0C927.9 374.7 929.3 372.3 929.6 372.8C930.0 373.4 931.4 379.5 931.7 382.5C932.0 385.5 933.1 403.3 933.3 408.8C933.5 414.3 934.2 441.4 934.3 448.2C934.5 455.1 935.2 488.4 935.4 490.8C935.6 493.2 936.2 480.2 936.4 477.1C936.7 474.0 937.8 456.8 938.0 453.5C938.3 450.2 939.3 439.1 939.6 437.7C939.9 436.3 940.9 435.5 941.2 436.4C941.4 437.3 942.0 444.8 942.2 448.2C942.4 451.6 943.0 472.8 943.3 477.1C943.5 481.5 944.6 498.6 944.8 500.8C945.1 503.0 946.2 503.8 946.4 503.4C946.7 503.0 947.7 496.4 948.0 495.5C948.3 494.7 949.3 492.5 949.6 492.9C949.8 493.3 950.8 500.0 951.2 500.8C951.5 501.6 952.9 502.9 953.3 502.9C953.6 502.9 954.7 502.9 954.8 500.8C955.0 498.6 955.2 480.9 955.4 477.1C955.5 473.4 956.2 458.2 956.4 456.1C956.6 454.0 957.7 452.4 958.0 452.2C958.2 452.0 959.3 451.8 959.6 453.5C959.8 455.1 960.4 468.8 960.6 471.9C960.8 474.9 962.0 488.4 962.2 490.3C962.4 492.1 963.1 495.7 963.2 494.2C963.4 492.7 964.1 475.7 964.3 471.9C964.5 468.0 965.6 450.9 965.9 448.2C966.2 445.6 967.6 440.0 968.0 439.8C968.3 439.6 969.8 443.8 970.1 445.6C970.4 447.4 971.4 458.3 971.6 461.4C971.9 464.4 973.0 482.8 973.2 482.4C973.4 482.0 974.1 460.5 974.3 456.1C974.4 451.7 975.1 433.8 975.3 429.8C975.5 425.9 976.6 411.1 976.9 408.8C977.2 406.6 978.2 403.3 978.5 403.0C978.7 402.8 979.8 403.5 980.0 406.2C980.2 408.9 980.9 430.5 981.1 435.1C981.2 439.7 981.9 458.6 982.1 461.4C982.3 464.1 983.4 467.6 983.7 467.9C984.0 468.3 985.4 466.0 985.8 465.3C986.1 464.7 987.6 460.6 987.9 460.1C988.2 459.5 989.2 458.4 989.5 458.7C989.7 459.1 990.4 466.0 990.5 464.0C990.6 462.0 990.9 438.5 991.0 435.1C991.2 431.7 992.3 424.3 992.6 423.3C992.9 422.2 994.0 421.5 994.2 422.5C994.4 423.5 995.1 433.2 995.2 435.1C995.4 437.0 996.0 444.3 996.3 445.6C996.6 446.9 998.0 449.9 998.4 450.3C998.8 450.8 1000.6 451.6 1001.0 451.4C1001.4 451.2 1002.8 448.9 1003.1 448.2C1003.4 447.5 1004.4 443.7 1004.7 443.0C1005.0 442.2 1006.0 438.6 1006.3 439.0C1006.5 439.5 1007.5 447.4 1007.9 448.2C1008.2 449.1 1009.6 449.5 1010.0 449.5C1010.3 449.5 1011.3 447.7 1011.5 448.2C1011.7 448.8 1012.4 454.4 1012.6 456.1C1012.8 457.9 1013.4 467.5 1013.6 469.3C1013.9 471.0 1014.9 476.1 1015.2 477.1C1015.5 478.2 1017.0 481.6 1017.3 481.9C1017.7 482.1 1019.2 481.3 1019.4 479.8C1019.6 478.3 1019.8 468.0 1019.9 464.0C1020.1 459.9 1020.8 431.8 1021.0 431.2C1021.2 430.5 1021.8 453.6 1022.0 456.1C1022.3 458.6 1023.4 463.1 1023.6 461.4C1023.8 459.6 1024.0 439.7 1024.1 435.1C1024.3 430.5 1024.9 410.0 1025.2 406.2C1025.5 402.4 1026.9 391.0 1027.3 389.1C1027.6 387.3 1029.0 384.4 1029.4 383.9C1029.7 383.3 1031.1 382.5 1031.5 382.5C1031.8 382.5 1033.3 382.5 1033.6 383.9C1033.9 385.2 1035.0 394.5 1035.2 398.3C1035.4 402.1 1036.0 425.5 1036.2 429.8C1036.4 434.2 1037.5 448.6 1037.8 450.9C1038.1 453.2 1039.1 457.3 1039.4 457.4C1039.6 457.5 1040.7 454.5 1041.0 452.2C1041.2 449.9 1041.8 433.9 1042.0 429.8C1042.2 425.8 1043.3 406.7 1043.6 403.6C1043.8 400.5 1044.9 393.5 1045.2 392.5C1045.4 391.5 1046.5 389.9 1046.7 391.7C1047.0 393.5 1047.6 409.6 1047.8 414.1C1048.0 418.6 1048.7 442.5 1048.8 445.6C1049.0 448.7 1049.7 450.5 1049.9 450.9C1050.1 451.2 1050.8 452.0 1050.9 449.5C1051.1 447.1 1051.8 425.4 1052.0 422.0C1052.2 418.6 1052.9 409.3 1053.0 408.8C1053.2 408.4 1053.9 414.3 1054.1 416.7C1054.3 419.1 1055.0 435.3 1055.1 437.7C1055.3 440.1 1056.0 445.3 1056.2 445.6C1056.4 445.9 1057.5 442.1 1057.8 441.7C1058.0 441.2 1059.1 439.8 1059.3 440.4C1059.6 440.9 1060.7 446.7 1060.9 448.2C1061.2 449.8 1062.3 457.5 1062.5 458.7C1062.7 459.9 1063.3 463.3 1063.6 462.7C1063.8 462.0 1064.9 453.6 1065.1 450.9C1065.3 448.1 1066.0 433.3 1066.2 429.8C1066.4 426.3 1067.5 411.0 1067.8 408.8C1068.0 406.6 1069.0 404.1 1069.3 403.6C1069.6 403.0 1071.1 402.1 1071.4 402.3C1071.8 402.4 1073.2 403.7 1073.5 404.9C1073.8 406.1 1074.9 414.6 1075.1 416.7C1075.4 418.8 1076.4 428.3 1076.7 429.8C1077.0 431.4 1078.0 435.3 1078.3 435.6C1078.6 436.0 1080.1 434.9 1080.4 433.8C1080.7 432.6 1081.7 423.8 1081.9 422.0C1082.2 420.1 1083.3 412.8 1083.5 411.5C1083.8 410.1 1084.8 408.1 1085.1 406.2C1085.4 404.3 1086.4 390.4 1086.7 389.1C1086.9 387.8 1088.0 388.8 1088.3 390.4C1088.5 392.1 1089.6 406.4 1089.8 408.8C1090.1 411.2 1091.1 418.3 1091.4 419.3C1091.7 420.3 1092.8 422.0 1093.0 420.6C1093.2 419.3 1093.8 407.4 1094.0 403.6C1094.2 399.7 1095.3 377.5 1095.6 374.7C1095.9 371.8 1097.0 368.3 1097.2 369.4C1097.4 370.5 1098.1 384.3 1098.2 387.8C1098.4 391.3 1099.1 409.2 1099.3 411.5C1099.5 413.7 1100.6 415.0 1100.9 415.4C1101.1 415.8 1102.2 415.9 1102.4 416.7C1102.7 417.5 1103.8 423.5 1104.0 424.6C1104.2 425.6 1104.8 429.3 1105.1 429.3C1105.3 429.3 1106.4 425.6 1106.6 424.6C1106.9 423.5 1108.0 418.0 1108.2 416.7C1108.5 415.4 1109.5 409.7 1109.8 408.8C1110.1 407.9 1111.1 406.2 1111.4 406.2C1111.6 406.2 1112.7 408.2 1112.9 408.8C1113.2 409.5 1114.3 413.5 1114.5 414.1C1114.8 414.7 1115.8 416.1 1116.1 416.2C1116.4 416.3 1117.9 415.8 1118.2 415.4C1118.6 415.0 1120.0 411.9 1120.3 411.5C1120.6 411.0 1121.7 409.5 1121.9 410.1C1122.1 410.8 1122.8 418.1 1122.9 419.3C1123.1 420.5 1123.8 425.5 1124.0 424.6C1124.2 423.7 1124.9 412.0 1125.0 408.8C1125.2 405.6 1125.9 388.2 1126.1 386.5C1126.3 384.7 1127.0 386.4 1127.1 387.8C1127.3 389.2 1128.0 400.6 1128.2 403.6C1128.4 406.5 1129.1 422.4 1129.2 423.3C1129.4 424.1 1130.1 416.8 1130.3 414.1C1130.5 411.3 1131.2 393.3 1131.3 390.4C1131.5 387.6 1132.2 379.9 1132.4 379.9C1132.6 379.9 1133.3 388.0 1133.4 390.4C1133.6 392.8 1133.9 404.3 1134.0 408.8C1134.1 413.3 1134.4 442.1 1134.5 444.3C1134.6 446.5 1135.3 436.5 1135.5 435.1C1135.8 433.7 1136.8 428.2 1137.1 427.2C1137.4 426.2 1138.9 423.8 1139.2 423.3C1139.6 422.7 1141.0 420.8 1141.3 420.6C1141.7 420.5 1143.1 421.4 1143.4 422.0C1143.7 422.5 1144.7 425.7 1145.0 427.2C1145.3 428.7 1146.3 437.9 1146.6 440.4C1146.8 442.8 1147.9 454.4 1148.2 456.1C1148.4 457.9 1149.0 462.5 1149.2 461.4C1149.4 460.3 1150.1 446.7 1150.3 443.0C1150.4 439.3 1151.1 421.1 1151.3 416.7C1151.5 412.3 1152.6 393.1 1152.9 390.4C1153.1 387.8 1154.2 383.9 1154.5 385.2C1154.7 386.5 1155.4 401.1 1155.5 406.2C1155.6 411.3 1155.9 444.1 1156.0 446.9C1156.2 449.8 1157.4 442.0 1157.6 440.4C1157.9 438.7 1158.9 429.6 1159.2 427.2C1159.5 424.8 1160.5 413.2 1160.8 411.5C1161.0 409.7 1162.1 405.3 1162.3 406.2C1162.6 407.1 1163.2 418.7 1163.4 422.0C1163.6 425.2 1164.3 443.1 1164.4 445.6C1164.6 448.1 1165.3 452.4 1165.5 452.2C1165.7 452.0 1166.8 444.8 1167.1 443.0C1167.3 441.1 1168.4 431.5 1168.6 429.8C1168.9 428.2 1170.0 423.7 1170.2 423.3C1170.5 422.8 1171.5 424.0 1171.8 424.6C1172.1 425.1 1173.1 429.0 1173.4 429.8C1173.6 430.7 1174.7 434.9 1175.0 435.1C1175.2 435.3 1176.3 433.1 1176.5 432.5C1176.8 431.8 1177.8 428.0 1178.1 427.2C1178.4 426.4 1179.5 422.6 1179.7 423.3C1179.9 423.9 1180.6 432.8 1180.7 435.1C1180.9 437.4 1181.6 448.9 1181.8 450.9C1182.0 452.8 1182.7 460.7 1182.8 458.2C1183.0 455.7 1183.7 423.7 1183.9 420.6C1184.1 417.6 1184.7 420.8 1184.9 422.0C1185.2 423.2 1186.3 432.8 1186.5 435.1C1186.7 437.4 1187.4 449.5 1187.6 449.5C1187.7 449.5 1188.4 436.8 1188.6 435.1C1188.8 433.4 1189.9 429.3 1190.2 429.3C1190.5 429.3 1191.5 434.0 1191.8 435.1C1192.0 436.2 1193.1 441.6 1193.3 443.0C1193.6 444.4 1194.7 452.2 1194.9 452.2C1195.2 452.2 1196.2 445.5 1196.5 443.0C1196.8 440.5 1197.8 425.0 1198.1 422.0C1198.4 418.9 1199.8 407.9 1200.2 406.2C1200.5 404.4 1201.9 401.2 1202.3 400.9C1202.6 400.7 1204.1 402.0 1204.4 403.6C1204.7 405.1 1205.7 416.3 1206.0 419.3C1206.2 422.4 1206.8 437.5 1207.0 440.4C1207.2 443.2 1207.8 453.1 1208.1 453.5C1208.3 453.9 1209.4 447.6 1209.6 445.6C1209.9 443.6 1211.0 432.3 1211.2 429.8C1211.5 427.4 1212.5 417.4 1212.8 416.7C1213.1 416.0 1214.1 421.0 1214.4 422.0C1214.6 422.9 1215.6 427.8 1215.9 428.5C1216.2 429.3 1217.7 431.5 1218.0 431.2C1218.4 430.8 1219.3 425.7 1219.6 424.6C1219.9 423.5 1221.4 418.6 1221.7 418.0C1222.1 417.5 1223.6 416.6 1223.8 418.0C1224.1 419.4 1224.7 432.1 1224.9 435.1C1225.1 438.1 1226.1 451.2 1226.5 453.5C1226.8 455.7 1228.2 462.2 1228.6 462.2C1228.9 462.2 1229.9 456.8 1230.1 453.5C1230.4 450.1 1231.1 426.7 1231.2 422.0C1231.3 417.3 1231.5 398.3 1231.7 397.0C1231.9 395.7 1233.0 404.8 1233.3 406.2C1233.5 407.6 1234.6 413.2 1234.9 414.1C1235.2 415.0 1236.7 416.3 1237.0 416.7C1237.3 417.1 1238.3 417.8 1238.5 419.3C1238.8 420.9 1239.9 432.5 1240.1 435.1C1240.4 437.7 1241.5 448.9 1241.7 450.9C1241.9 452.8 1242.5 458.9 1242.7 458.2C1243.0 457.6 1244.1 446.0 1244.3 443.0C1244.5 440.0 1245.2 423.1 1245.4 422.0C1245.5 420.9 1246.2 428.1 1246.4 429.8C1246.6 431.6 1247.3 442.2 1247.5 443.0C1247.6 443.7 1248.3 440.6 1248.5 439.0C1248.7 437.5 1249.8 425.9 1250.1 424.6C1250.4 423.3 1251.4 422.0 1251.7 423.3C1251.9 424.6 1253.0 437.7 1253.3 440.4C1253.5 443.0 1254.6 455.2 1254.8 455.6C1255.1 456.0 1256.2 447.2 1256.4 445.6C1256.6 444.0 1257.2 436.7 1257.5 436.4C1257.7 436.1 1258.8 440.8 1259.0 441.7C1259.3 442.5 1260.4 447.5 1260.6 446.9C1260.8 446.4 1261.5 438.7 1261.7 435.1C1261.8 431.5 1262.6 408.2 1262.7 403.6C1262.8 399.0 1263.1 379.9 1263.2 379.9C1263.4 379.9 1264.1 399.7 1264.3 403.6C1264.5 407.4 1265.6 425.0 1265.9 425.9C1266.1 426.8 1267.2 415.5 1267.4 414.1C1267.7 412.7 1268.8 408.6 1269.0 408.8C1269.3 409.0 1270.3 415.7 1270.6 416.7C1270.9 417.7 1271.9 420.9 1272.2 420.6C1272.5 420.4 1273.9 415.5 1274.3 414.1C1274.6 412.7 1276.0 405.1 1276.4 403.6C1276.7 402.0 1278.2 395.7 1278.5 395.7C1278.7 395.7 1279.4 402.5 1279.5 403.6C1279.7 404.7 1279.8 408.5 1280.0 408.8C1280.2 409.2 1281.3 407.7 1281.6 407.5C1281.8 407.3 1282.9 405.9 1283.2 406.2C1283.4 406.5 1284.5 409.5 1284.7 411.5C1285.0 413.4 1286.0 426.6 1286.3 429.8C1286.6 433.1 1287.7 448.6 1287.9 450.9C1288.1 453.1 1288.8 457.3 1288.9 456.9C1289.1 456.5 1289.8 448.5 1290.0 445.6C1290.2 442.7 1290.9 425.6 1291.0 422.0C1291.2 418.3 1291.9 404.0 1292.1 402.3C1292.3 400.5 1293.0 400.4 1293.1 400.9C1293.3 401.5 1294.0 407.6 1294.2 408.8C1294.4 410.0 1295.5 414.6 1295.8 415.4C1296.1 416.2 1297.5 417.6 1297.9 418.0C1298.2 418.5 1299.7 419.4 1300.0 420.6C1300.3 421.9 1301.3 430.3 1301.5 432.5C1301.8 434.7 1302.9 445.2 1303.1 446.9C1303.3 448.6 1304.0 453.3 1304.2 453.0C1304.3 452.6 1305.0 445.1 1305.2 443.0C1305.4 440.8 1306.6 428.9 1306.8 427.2C1307.0 425.6 1307.6 422.7 1307.9 423.3C1308.1 423.8 1309.2 433.2 1309.4 433.8C1309.6 434.3 1310.3 431.5 1310.5 429.8C1310.7 428.2 1311.4 416.0 1311.5 414.1C1311.7 412.1 1312.4 406.9 1312.6 406.2C1312.8 405.5 1313.9 405.0 1314.2 405.7C1314.4 406.3 1315.0 412.3 1315.2 414.1C1315.4 415.9 1316.0 425.2 1316.3 427.2C1316.5 429.2 1317.6 436.3 1317.8 437.7C1318.1 439.1 1319.1 445.0 1319.4 444.3C1319.7 443.6 1320.8 432.1 1321.0 429.8C1321.2 427.5 1321.8 418.1 1322.0 416.7C1322.3 415.3 1323.4 413.1 1323.6 413.6C1323.8 414.0 1324.4 419.9 1324.7 422.0C1324.9 424.0 1326.0 437.5 1326.2 437.7C1326.5 437.9 1327.6 426.8 1327.8 424.6C1328.0 422.4 1328.7 412.5 1328.9 411.5C1329.1 410.4 1330.2 411.5 1330.4 412.0C1330.7 412.4 1331.8 415.7 1332.0 416.7C1332.3 417.8 1333.4 422.6 1333.6 424.6C1333.8 426.6 1334.4 437.7 1334.7 440.4C1334.9 443.0 1336.0 456.7 1336.2 456.9C1336.4 457.1 1337.1 445.2 1337.3 443.0C1337.5 440.7 1338.6 431.0 1338.9 429.8C1339.1 428.6 1339.7 428.0 1339.9 428.5C1340.1 429.1 1341.3 435.5 1341.5 436.4C1341.7 437.3 1342.4 440.7 1342.5 439.0C1342.7 437.4 1342.9 420.5 1343.1 416.7C1343.2 412.9 1343.9 395.3 1344.1 393.1C1344.3 390.8 1345.0 389.7 1345.2 389.9C1345.3 390.1 1346.0 394.3 1346.2 395.7C1346.4 397.0 1347.6 405.2 1347.8 406.2C1348.0 407.2 1348.7 408.2 1348.8 407.5C1349.0 406.9 1349.7 399.7 1349.9 398.3C1350.1 396.9 1350.8 390.5 1350.9 391.0C1351.1 391.4 1351.8 401.1 1352.0 403.6C1352.2 406.0 1352.8 418.8 1353.0 420.6C1353.3 422.5 1354.4 425.8 1354.6 425.9C1354.9 426.0 1355.9 423.2 1356.2 422.0C1356.5 420.8 1357.5 412.5 1357.8 411.5C1358.0 410.4 1359.1 408.2 1359.3 408.8C1359.6 409.5 1360.2 417.1 1360.4 419.3C1360.6 421.5 1361.3 433.1 1361.5 435.1C1361.6 437.1 1362.3 443.4 1362.5 443.0C1362.7 442.5 1363.8 432.0 1364.1 429.8C1364.3 427.7 1365.4 417.9 1365.7 416.7C1365.9 415.5 1366.5 414.7 1366.7 415.4C1366.9 416.0 1367.5 423.1 1367.8 424.6C1368.0 426.1 1369.0 432.8 1369.3 433.8C1369.6 434.8 1371.1 436.7 1371.4 436.4C1371.7 436.1 1372.8 429.3 1373.0 429.8C1373.2 430.4 1373.8 441.8 1374.1 443.0C1374.3 444.2 1375.4 445.0 1375.6 444.3C1375.9 443.6 1377.0 436.5 1377.2 435.1C1377.5 433.7 1378.5 428.3 1378.8 427.2C1379.1 426.2 1380.1 421.8 1380.4 422.5C1380.6 423.1 1381.2 432.8 1381.4 435.1C1381.6 437.4 1382.3 449.5 1382.5 449.5C1382.7 449.5 1383.8 437.4 1384.0 435.1C1384.3 432.8 1384.9 423.2 1385.1 422.0C1385.3 420.8 1386.0 420.0 1386.1 420.6C1386.3 421.3 1387.0 428.7 1387.2 429.8C1387.4 430.9 1388.1 434.7 1388.3 433.8C1388.4 432.9 1389.1 420.9 1389.3 419.3C1389.5 417.8 1390.1 415.4 1390.4 415.4C1390.6 415.4 1391.7 418.5 1391.9 419.3C1392.1 420.2 1392.8 426.8 1393.0 425.9C1393.2 425.0 1393.9 410.9 1394.0 408.8C1394.2 406.7 1394.9 400.3 1395.1 400.9C1395.3 401.6 1396.0 414.1 1396.1 416.7C1396.3 419.3 1397.0 431.8 1397.2 432.5C1397.4 433.1 1398.0 425.7 1398.2 424.6C1398.5 423.4 1399.6 418.8 1399.8 418.8C1400.0 418.8 1400.7 423.0 1400.9 424.6C1401.0 426.2 1401.7 436.0 1401.9 437.7C1402.1 439.5 1403.2 445.4 1403.5 445.6C1403.8 445.8 1404.8 441.3 1405.1 440.4C1405.3 439.4 1406.4 433.6 1406.6 433.8C1406.9 434.0 1408.0 441.3 1408.2 443.0C1408.5 444.6 1409.5 452.1 1409.8 453.5C1410.1 454.9 1411.1 459.1 1411.4 460.1C1411.7 461.0 1413.1 464.7 1413.5 465.3C1413.8 466.0 1415.2 467.4 1415.6 467.9C1415.9 468.5 1417.3 471.1 1417.7 471.9C1418.0 472.6 1419.4 476.4 1419.8 477.1C1420.1 477.9 1421.5 480.9 1421.9 481.1C1422.2 481.3 1423.7 479.7 1424.0 479.8C1424.3 479.9 1425.3 482.0 1425.6 482.4C1425.8 482.8 1426.8 484.3 1427.1 485.0C1427.4 485.7 1428.9 491.5 1429.2 490.8C1429.5 490.1 1430.6 478.6 1430.8 477.1C1431.0 475.7 1431.6 472.5 1431.9 473.2C1432.1 473.9 1433.2 483.2 1433.4 485.0C1433.7 486.8 1434.8 495.7 1435.0 495.0C1435.3 494.3 1436.3 479.4 1436.6 477.1C1436.9 474.9 1438.0 467.5 1438.2 467.9C1438.4 468.4 1439.0 480.1 1439.2 482.4C1439.4 484.7 1440.5 494.8 1440.8 495.5C1441.1 496.3 1442.6 492.1 1442.9 491.6C1443.3 491.0 1444.7 489.1 1445.0 489.0C1445.4 488.9 1446.8 489.9 1447.1 490.3C1447.5 490.6 1448.9 492.0 1449.2 492.9C1449.5 493.8 1450.5 499.7 1450.8 500.8C1451.0 501.9 1452.1 506.7 1452.4 506.0C1452.6 505.4 1453.7 495.1 1453.9 492.9C1454.2 490.7 1455.2 481.4 1455.5 479.8C1455.8 478.1 1456.8 474.0 1457.1 473.2C1457.4 472.4 1458.4 470.0 1458.7 470.6C1458.9 471.1 1459.5 478.2 1459.7 479.8C1459.9 481.3 1461.0 488.3 1461.3 489.0C1461.6 489.6 1463.0 488.1 1463.4 487.6C1463.7 487.2 1465.1 483.8 1465.5 483.7C1465.8 483.6 1467.2 485.8 1467.6 486.3C1467.9 486.9 1469.4 489.8 1469.7 490.3C1470.0 490.8 1471.0 492.6 1471.3 492.4C1471.6 492.2 1473.0 488.3 1473.4 487.6C1473.7 487.0 1475.2 484.8 1475.5 485.0C1475.8 485.2 1476.8 489.4 1477.1 490.3C1477.3 491.2 1478.4 496.7 1478.6 496.1C1478.9 495.4 1479.9 484.3 1480.2 482.4C1480.5 480.5 1481.6 473.6 1481.8 473.2C1482.0 472.8 1482.7 476.4 1482.8 477.1C1483.0 477.9 1483.7 482.3 1483.9 482.4C1484.1 482.5 1485.2 478.6 1485.5 478.4C1485.7 478.3 1486.8 481.2 1487.0 481.1C1487.3 481.0 1488.4 477.6 1488.6 477.1C1488.9 476.7 1489.9 476.3 1490.2 475.8C1490.5 475.4 1491.9 472.5 1492.3 471.9C1492.6 471.2 1494.1 468.2 1494.4 467.9C1494.7 467.7 1495.7 468.8 1496.0 469.3C1496.2 469.7 1497.3 473.0 1497.6 473.2C1497.8 473.4 1498.9 471.6 1499.1 471.9C1499.4 472.2 1500.4 476.4 1500.7 477.1C1501.0 477.9 1502.0 481.1 1502.3 481.1C1502.5 481.1 1503.6 476.6 1503.9 477.1C1504.1 477.7 1505.2 486.7 1505.4 487.6C1505.7 488.6 1506.7 489.5 1507.0 489.0C1507.3 488.4 1508.4 482.0 1508.6 481.1C1508.8 480.2 1509.4 478.1 1509.6 478.4C1509.9 478.8 1511.0 484.4 1511.2 485.0C1511.5 485.7 1512.5 486.8 1512.8 486.3C1513.1 485.9 1514.1 481.4 1514.4 479.8C1514.6 478.1 1515.2 468.4 1515.4 466.6C1515.6 464.9 1516.3 459.0 1516.5 458.7C1516.6 458.5 1517.3 462.2 1517.5 464.0C1517.7 465.8 1518.4 478.3 1518.6 479.8C1518.7 481.2 1519.4 481.6 1519.6 481.1C1519.8 480.5 1520.9 474.0 1521.2 473.2C1521.5 472.4 1522.5 471.6 1522.8 471.9C1523.0 472.2 1524.1 476.3 1524.4 477.1C1524.6 478.0 1525.7 482.6 1525.9 482.4C1526.2 482.2 1527.3 475.4 1527.5 474.5C1527.7 473.6 1528.3 471.7 1528.6 471.9C1528.8 472.1 1529.9 476.0 1530.1 477.1C1530.4 478.2 1531.4 483.9 1531.7 485.0C1532.0 486.2 1533.0 491.5 1533.3 490.8C1533.5 490.1 1534.6 478.9 1534.9 477.1C1535.1 475.3 1535.7 469.6 1535.9 469.3C1536.1 468.9 1537.2 472.4 1537.5 473.2C1537.8 474.0 1538.8 478.4 1539.1 478.4C1539.3 478.4 1540.4 474.0 1540.6 473.2C1540.9 472.4 1542.0 469.3 1542.2 469.3C1542.5 469.3 1543.5 472.3 1543.8 473.2C1544.1 474.1 1545.1 479.4 1545.4 479.8C1545.6 480.1 1546.7 477.8 1546.9 477.1C1547.2 476.5 1547.8 473.0 1548.0 471.9C1548.2 470.8 1548.9 465.1 1549.0 464.0C1549.2 462.9 1549.9 457.6 1550.1 458.7C1550.3 459.8 1550.9 474.9 1551.2 477.1C1551.4 479.3 1552.5 484.7 1552.7 485.0C1553.0 485.3 1554.0 481.8 1554.3 481.1C1554.6 480.3 1555.6 475.9 1555.9 475.8C1556.1 475.7 1557.2 479.7 1557.5 479.8C1557.7 479.9 1558.8 478.0 1559.0 477.1C1559.3 476.3 1559.9 470.1 1560.1 469.3C1560.3 468.4 1561.0 466.0 1561.1 466.6C1561.3 467.3 1562.0 476.6 1562.2 477.1C1562.4 477.7 1563.1 472.9 1563.2 473.2C1563.4 473.5 1564.1 481.6 1564.3 481.1C1564.5 480.5 1565.1 468.5 1565.3 466.6C1565.6 464.8 1566.7 459.7 1566.9 458.7C1567.2 457.8 1568.2 454.6 1568.5 454.8C1568.8 455.0 1569.8 459.5 1570.1 461.4C1570.3 463.2 1571.4 475.2 1571.6 477.1C1571.9 479.1 1572.9 484.1 1573.2 485.0C1573.5 485.9 1575.0 487.0 1575.3 487.6C1575.6 488.3 1576.6 491.7 1576.9 492.9C1577.2 494.1 1578.3 500.9 1578.5 502.1C1578.7 503.3 1579.4 506.5 1579.5 506.8C1579.7 507.2 1579.9 508.5 1580.0 506.5C1580.1 504.6 1580.8 485.3 1581.1 482.9C1581.3 480.5 1582.4 479.0 1582.6 477.6C1582.9 476.3 1583.9 469.1 1584.2 467.1C1584.5 465.2 1585.5 455.9 1585.8 454.0C1586.0 452.1 1587.1 446.0 1587.4 444.8C1587.6 443.6 1588.7 440.1 1588.9 439.5C1589.2 439.0 1589.8 437.2 1590.0 438.2C1590.2 439.2 1590.9 449.3 1591.0 451.4C1591.2 453.5 1591.9 462.1 1592.1 463.2C1592.3 464.3 1593.4 464.0 1593.7 464.5C1593.9 465.1 1595.0 469.1 1595.2 469.8C1595.5 470.5 1596.6 472.9 1596.8 472.9C1597.1 472.9 1598.1 470.7 1598.4 469.8C1598.7 468.8 1599.7 463.1 1600.0 461.9C1600.2 460.7 1601.2 456.2 1601.5 455.3C1601.9 454.4 1603.3 451.8 1603.6 451.4C1604.0 451.0 1605.4 450.5 1605.7 450.6C1606.1 450.7 1607.5 452.1 1607.9 452.7C1608.2 453.3 1609.2 457.4 1609.4 457.9C1609.7 458.5 1610.7 458.5 1611.0 459.3C1611.3 460.0 1612.3 465.6 1612.6 467.1C1612.8 468.7 1613.9 476.2 1614.2 477.6C1614.4 479.1 1615.5 483.3 1615.7 484.2C1616.0 485.1 1616.6 488.3 1616.8 488.2C1617.0 488.0 1618.1 482.8 1618.4 482.9C1618.6 483.0 1619.7 488.4 1619.9 489.5C1620.2 490.6 1621.3 496.1 1621.5 496.0C1621.7 495.9 1622.3 489.9 1622.6 488.2C1622.8 486.4 1623.9 477.1 1624.1 475.0C1624.4 472.9 1625.5 464.9 1625.7 463.2C1626.0 461.4 1627.0 455.3 1627.3 454.0C1627.6 452.7 1628.6 448.1 1628.9 447.4C1629.1 446.8 1630.2 445.8 1630.4 446.1C1630.7 446.4 1631.8 449.6 1632.0 451.4C1632.2 453.1 1632.9 466.3 1633.1 467.1C1633.2 468.0 1633.9 462.5 1634.1 461.9C1634.3 461.2 1635.0 459.0 1635.2 459.3C1635.4 459.5 1636.1 463.2 1636.2 464.5C1636.4 465.8 1637.1 474.6 1637.3 475.0C1637.5 475.5 1638.6 470.9 1638.9 469.8C1639.1 468.7 1640.2 463.1 1640.4 461.9C1640.7 460.7 1641.8 456.0 1642.0 455.3C1642.2 454.7 1642.9 453.3 1643.1 454.0C1643.2 454.7 1643.9 462.1 1644.1 463.2C1644.3 464.3 1645.0 468.1 1645.2 467.1C1645.3 466.2 1646.0 453.3 1646.2 451.4C1646.4 449.4 1647.1 444.5 1647.3 443.5C1647.4 442.5 1648.1 439.3 1648.3 439.5C1648.5 439.8 1649.2 444.9 1649.4 446.1C1649.5 447.3 1650.2 452.5 1650.4 454.0C1650.6 455.5 1651.7 463.0 1652.0 464.5C1652.3 466.0 1653.3 471.5 1653.6 472.4C1653.8 473.3 1654.4 475.5 1654.6 475.0C1654.8 474.6 1655.5 468.1 1655.7 467.1C1655.8 466.2 1656.5 463.0 1656.7 463.2C1656.9 463.4 1657.6 468.8 1657.8 469.8C1657.9 470.7 1658.6 474.3 1658.8 474.5C1659.0 474.7 1660.1 473.0 1660.4 472.4C1660.7 471.8 1661.7 468.4 1662.0 467.1C1662.2 465.8 1663.3 458.4 1663.6 456.6C1663.8 454.9 1664.4 447.8 1664.6 446.1C1664.8 444.5 1665.5 437.8 1665.7 436.9C1665.8 436.0 1666.6 434.0 1666.7 435.6C1666.8 437.2 1667.1 453.7 1667.2 456.6C1667.3 459.6 1667.6 470.6 1667.8 471.1C1667.9 471.5 1669.1 462.9 1669.3 461.9C1669.6 460.9 1670.7 459.1 1670.9 459.3C1671.1 459.4 1671.7 462.6 1672.0 463.2C1672.2 463.7 1673.3 466.4 1673.5 465.8C1673.8 465.3 1674.4 458.3 1674.6 456.6C1674.8 455.0 1675.9 447.6 1676.2 446.1C1676.4 444.6 1677.5 439.3 1677.7 438.2C1678.0 437.1 1679.1 433.6 1679.3 433.0C1679.5 432.4 1680.2 430.3 1680.4 431.1C1680.5 432.0 1681.2 441.4 1681.4 443.5C1681.6 445.6 1682.3 454.7 1682.5 456.6C1682.7 458.6 1683.8 465.7 1684.0 467.1C1684.3 468.6 1685.4 473.1 1685.6 473.7C1685.9 474.3 1686.9 474.7 1687.2 474.5C1687.5 474.3 1689.0 471.9 1689.3 471.1C1689.6 470.2 1690.6 466.2 1690.9 464.5C1691.1 462.9 1692.2 453.3 1692.5 451.4C1692.7 449.4 1693.8 441.8 1694.0 440.9C1694.3 439.9 1695.3 439.3 1695.6 439.5C1695.9 439.8 1696.9 442.8 1697.2 443.5C1697.4 444.1 1698.5 447.2 1698.8 447.4C1699.1 447.6 1700.5 446.4 1700.9 446.1C1701.2 445.8 1702.6 444.0 1703.0 443.5C1703.3 442.9 1704.7 440.3 1705.1 439.5C1705.4 438.8 1706.9 435.0 1707.2 434.3C1707.5 433.6 1708.5 431.8 1708.7 431.7C1709.0 431.6 1710.1 432.5 1710.3 433.0C1710.6 433.4 1711.6 436.2 1711.9 436.9C1712.2 437.7 1713.2 441.6 1713.5 442.2C1713.7 442.7 1714.8 443.5 1715.0 443.5C1715.3 443.5 1716.4 442.5 1716.6 442.2C1716.9 441.8 1718.0 439.3 1718.2 439.5C1718.4 439.8 1719.0 444.0 1719.3 444.8C1719.5 445.6 1720.6 449.3 1720.8 448.7C1721.0 448.2 1721.7 440.4 1721.9 438.2C1722.1 436.0 1722.8 424.7 1722.9 422.5C1723.1 420.3 1723.8 413.6 1724.0 412.0C1724.2 410.3 1725.3 404.0 1725.6 402.8C1725.8 401.6 1726.8 398.2 1727.1 397.5C1727.4 396.8 1729.0 393.6 1729.2 394.4C1729.5 395.1 1730.1 404.5 1730.3 406.7C1730.5 408.9 1731.1 420.2 1731.3 421.2C1731.6 422.1 1732.7 419.3 1732.9 418.5C1733.2 417.8 1734.3 413.2 1734.5 412.0C1734.7 410.8 1735.3 404.6 1735.5 404.1C1735.8 403.5 1736.9 405.4 1737.1 405.4C1737.4 405.3 1738.5 404.3 1738.7 403.6C1738.9 402.8 1739.5 397.4 1739.7 396.2C1740.0 395.0 1741.1 389.0 1741.3 389.6C1741.5 390.3 1741.7 401.8 1741.8 404.1C1742.0 406.4 1742.7 415.4 1742.9 417.2C1743.1 419.1 1744.3 425.4 1744.5 426.4C1744.7 427.5 1745.3 429.9 1745.5 429.8C1745.7 429.7 1746.8 426.3 1747.1 425.1C1747.4 423.9 1748.4 417.1 1748.7 415.9C1748.9 414.7 1750.0 411.0 1750.3 410.6C1750.5 410.3 1751.6 411.0 1751.8 411.4C1752.1 411.9 1753.1 415.0 1753.4 415.9C1753.7 416.8 1754.7 421.6 1755.0 422.5C1755.2 423.3 1756.3 426.5 1756.6 426.4C1756.8 426.3 1757.9 421.8 1758.1 421.2C1758.4 420.5 1759.5 418.4 1759.7 418.5C1760.0 418.6 1761.0 421.8 1761.3 422.5C1761.6 423.1 1762.7 426.4 1762.9 426.4C1763.1 426.4 1763.7 423.1 1763.9 422.5C1764.1 421.8 1765.2 419.0 1765.5 418.5C1765.8 418.1 1766.9 416.0 1767.1 417.2C1767.2 418.4 1767.5 430.4 1767.6 433.0C1767.7 435.6 1768.4 447.8 1768.6 448.7C1768.9 449.7 1770.0 445.8 1770.2 444.8C1770.4 443.8 1771.1 437.7 1771.3 436.9C1771.5 436.1 1772.6 435.0 1772.9 435.1C1773.1 435.2 1774.2 437.3 1774.4 438.2C1774.6 439.2 1775.3 445.1 1775.5 446.1C1775.7 447.1 1776.3 450.4 1776.5 450.6C1776.8 450.8 1777.8 449.3 1778.1 448.7C1778.4 448.2 1779.4 444.5 1779.7 443.5C1780.0 442.5 1781.4 438.0 1781.8 436.9C1782.1 435.8 1783.5 431.6 1783.9 430.4C1784.2 429.1 1785.7 423.4 1786.0 422.5C1786.3 421.6 1787.3 419.3 1787.6 419.3C1787.8 419.3 1788.9 421.9 1789.1 422.5C1789.4 423.1 1790.0 425.8 1790.2 426.4C1790.4 427.1 1791.5 429.5 1791.8 430.4C1792.0 431.2 1793.1 435.9 1793.3 436.9C1793.6 438.0 1794.7 442.9 1794.9 443.0C1795.1 443.1 1795.8 439.7 1796.0 438.2C1796.2 436.7 1797.3 426.8 1797.6 425.1C1797.8 423.3 1798.9 418.3 1799.1 417.2C1799.4 416.1 1800.4 412.7 1800.7 412.0C1801.0 411.3 1802.0 408.7 1802.3 408.8C1802.5 408.9 1803.6 411.9 1803.9 413.3C1804.1 414.6 1804.7 423.2 1804.9 425.1C1805.1 427.0 1805.7 434.4 1806.0 435.6C1806.2 436.8 1807.3 440.0 1807.5 439.5C1807.8 439.1 1808.4 432.3 1808.6 430.4C1808.8 428.4 1809.9 418.0 1810.2 415.9C1810.4 413.8 1811.5 406.6 1811.7 405.4C1812.0 404.2 1813.1 402.3 1813.3 402.0C1813.6 401.6 1814.7 400.6 1814.9 401.5C1815.1 402.3 1815.7 410.3 1815.9 412.0C1816.2 413.6 1817.3 420.6 1817.5 421.2C1817.8 421.7 1818.8 418.6 1819.1 418.5C1819.4 418.4 1820.5 418.9 1820.7 419.8C1820.9 420.8 1821.5 428.5 1821.7 430.4C1821.9 432.2 1823.0 440.6 1823.3 442.2C1823.6 443.7 1824.6 448.0 1824.9 448.7C1825.2 449.4 1826.7 450.8 1827.0 450.6C1827.3 450.4 1828.3 447.8 1828.6 446.1C1828.8 444.4 1829.4 433.0 1829.6 430.4C1829.8 427.7 1830.4 417.1 1830.7 414.6C1830.9 412.1 1832.0 401.9 1832.2 400.1C1832.5 398.4 1833.5 394.2 1833.8 393.6C1834.1 392.9 1835.1 391.8 1835.4 392.3C1835.6 392.7 1836.7 397.4 1837.0 398.8C1837.2 400.2 1838.3 407.1 1838.5 409.3C1838.8 411.5 1839.9 423.1 1840.1 425.1C1840.4 427.1 1841.5 434.4 1841.7 433.5C1841.9 432.6 1842.6 417.0 1842.7 414.6C1842.9 412.1 1843.6 405.1 1843.8 404.1C1844.0 403.1 1845.2 402.3 1845.4 402.8C1845.6 403.2 1846.2 408.1 1846.4 409.3C1846.6 410.5 1847.3 416.1 1847.5 417.2C1847.6 418.3 1848.3 422.7 1848.5 422.5C1848.7 422.3 1849.8 415.9 1850.1 414.6C1850.4 413.3 1851.4 407.5 1851.7 406.7C1851.9 405.9 1853.0 405.0 1853.3 404.9C1853.5 404.8 1854.6 404.6 1854.8 405.4C1855.0 406.2 1855.7 413.3 1855.9 414.6C1856.1 415.9 1857.2 420.4 1857.5 421.2C1857.7 421.9 1858.8 423.9 1859.0 423.8C1859.2 423.7 1859.8 420.6 1860.0 420.1C1860.2 419.6 1861.7 418.1 1862.0 418.1C1862.3 418.1 1863.3 419.3 1863.5 420.1C1863.8 420.9 1864.7 426.5 1865.0 427.6C1865.3 428.7 1866.7 432.6 1867.0 433.1C1867.3 433.6 1868.7 434.3 1869.0 433.9C1869.3 433.4 1870.3 428.8 1870.5 427.6C1870.8 426.5 1871.8 420.8 1872.0 420.1C1872.3 419.4 1873.3 419.0 1873.5 419.6C1873.8 420.2 1874.8 425.9 1875.0 427.6C1875.3 429.3 1876.3 438.4 1876.5 440.1C1876.7 441.8 1877.3 447.8 1877.5 448.1C1877.7 448.4 1878.8 444.4 1879.0 443.9C1879.2 443.3 1879.8 441.2 1880.0 441.4C1880.2 441.6 1881.3 445.7 1881.5 446.4C1881.8 447.1 1882.8 449.6 1883.0 450.1C1883.3 450.7 1884.3 452.5 1884.5 452.6C1884.8 452.7 1885.8 451.9 1886.0 451.4C1886.3 450.9 1887.3 447.5 1887.5 446.4C1887.7 445.2 1888.4 439.2 1888.5 437.6C1888.7 436.1 1889.3 428.9 1889.5 427.6C1889.7 426.4 1890.8 422.6 1891.0 422.6C1891.2 422.6 1891.8 426.1 1892.0 427.6C1892.2 429.1 1893.3 438.2 1893.5 440.1C1893.8 442.0 1894.8 449.1 1895.0 450.1C1895.3 451.1 1896.8 451.9 1897.0 452.1C1897.3 452.3 1898.3 451.8 1898.5 452.6C1898.8 453.5 1899.8 461.0 1900.1 462.7C1900.3 464.3 1901.3 471.2 1901.6 472.7C1901.8 474.1 1902.8 478.9 1903.1 479.7C1903.3 480.4 1904.3 482.2 1904.6 481.4C1904.8 480.6 1905.4 472.8 1905.6 470.2C1905.7 467.6 1906.3 452.4 1906.6 450.1C1906.8 447.9 1907.9 442.6 1908.1 443.1C1908.3 443.7 1908.9 455.8 1909.1 456.4C1909.3 457.0 1910.3 450.8 1910.6 450.1C1910.8 449.5 1911.8 448.7 1912.1 448.9C1912.3 449.1 1913.3 451.5 1913.6 452.6C1913.8 453.8 1914.8 460.7 1915.1 462.7C1915.3 464.6 1916.3 474.1 1916.6 476.4C1916.8 478.7 1917.8 488.7 1918.1 490.2C1918.3 491.7 1919.3 494.7 1919.6 494.7C1919.8 494.7 1920.8 491.8 1921.1 490.2C1921.3 488.6 1922.3 477.3 1922.6 475.2C1922.8 473.1 1923.9 465.6 1924.1 465.2C1924.3 464.7 1924.9 468.7 1925.1 470.2C1925.3 471.6 1926.3 481.0 1926.6 482.7C1926.8 484.3 1927.9 489.4 1928.1 490.2C1928.3 491.0 1928.9 493.1 1929.1 492.7C1929.3 492.3 1929.9 486.2 1930.1 485.2C1930.3 484.1 1931.0 479.3 1931.1 480.2C1931.2 481.0 1931.5 492.9 1931.6 495.2C1931.7 497.5 1932.4 506.0 1932.6 507.7C1932.8 509.4 1933.4 514.5 1933.6 515.2C1933.8 515.9 1934.5 517.7 1934.6 516.5C1934.7 515.2 1935.0 502.8 1935.1 500.2C1935.2 497.6 1935.9 487.2 1936.1 485.2C1936.3 483.2 1937.3 477.5 1937.6 476.4C1937.9 475.4 1939.3 473.0 1939.6 472.7C1939.9 472.4 1941.3 472.5 1941.6 472.7C1941.9 472.9 1943.3 474.3 1943.6 475.2C1943.9 476.0 1945.3 481.0 1945.6 482.7C1945.9 484.3 1946.9 493.1 1947.1 495.2C1947.4 497.3 1948.4 506.4 1948.6 507.7C1948.9 509.1 1949.9 512.1 1950.1 511.5C1950.4 510.8 1951.4 502.2 1951.6 500.2C1951.8 498.2 1952.4 489.2 1952.6 487.7C1952.8 486.2 1953.9 482.5 1954.1 482.2C1954.4 481.9 1955.4 483.3 1955.6 483.9C1955.8 484.6 1956.4 489.5 1956.6 490.2C1956.8 490.9 1957.9 492.4 1958.1 492.7C1958.4 493.0 1959.4 493.1 1959.6 493.9C1959.9 494.8 1960.9 501.3 1961.1 502.7C1961.4 504.1 1962.4 509.4 1962.6 510.2C1962.8 511.0 1963.5 512.8 1963.6 512.2C1963.8 511.6 1964.4 504.3 1964.6 502.7C1964.8 501.1 1965.9 493.7 1966.1 492.7C1966.4 491.6 1967.3 490.3 1967.6 490.2C1967.9 490.1 1969.4 490.6 1969.6 491.4C1969.9 492.3 1970.5 499.4 1970.6 500.2C1970.8 501.0 1971.4 501.5 1971.6 501.5C1971.8 501.5 1972.9 499.7 1973.1 500.2C1973.4 500.7 1974.4 506.5 1974.6 507.7C1974.9 509.0 1975.9 514.0 1976.1 515.2C1976.4 516.4 1977.4 521.7 1977.6 522.2C1977.9 522.7 1978.9 522.5 1979.1 521.5C1979.4 520.5 1979.9 512.0 1980.2 510.2C1980.4 508.4 1981.4 501.5 1981.7 500.2C1981.9 498.9 1982.9 495.1 1983.2 494.7C1983.4 494.3 1984.4 494.5 1984.7 495.2C1984.9 495.9 1985.9 501.5 1986.2 502.7C1986.4 504.0 1987.4 509.0 1987.7 510.2C1987.9 511.5 1988.9 516.9 1989.2 517.7C1989.4 518.5 1990.4 519.9 1990.7 519.7C1990.9 519.5 1991.9 515.9 1992.2 515.2C1992.4 514.5 1993.4 512.0 1993.7 511.5C1993.9 510.9 1994.9 509.2 1995.2 509.0C1995.4 508.7 1996.5 507.7 1996.7 508.5C1996.9 509.2 1997.4 516.9 1997.7 517.7C1998.0 518.5 1999.7 518.2 2000.2 518.2C2000.6 518.2 2002.6 517.8 2003.2 517.7C2003.7 517.6 2006.4 517.3 2006.7 517.2" stroke="#d9822b" stroke-width="1.65" fill="none" stroke-linejoin="round"/>
<path d="M147.2 27.900000000000002V727.4000000000001H2017.65M147.5 727.20h8.6M147.5 673.48h8.6M147.5 619.75h8.6M147.5 566.03h8.6M147.5 512.31h8.6M147.5 458.58h8.6M147.5 404.86h8.6M147.5 351.14h8.6M147.5 297.42h8.6M147.5 243.69h8.6M147.5 189.97h8.6M147.5 136.25h8.6M147.5 82.52h8.6M147.5 28.80h8.6M147.5 700.34h5.5M147.5 646.62h5.5M147.5 592.89h5.5M147.5 539.17h5.5M147.5 485.45h5.5M147.5 431.72h5.5M147.5 378.00h5.5M147.5 324.28h5.5M147.5 270.55h5.5M147.5 216.83h5.5M147.5 163.11h5.5M147.5 109.38h5.5M147.5 55.66h5.5M248.4 727.2v-8.2M395.9 727.2v-8.2M503.15 727.2v-8.2M583.65 727.2v-8.2M650.9 727.2v-8.2M705.9 727.2v-8.2M751.9 727.2v-8.2M795.4 727.2v-8.2M832.4 727.2v-8.2M1075.65 727.2v-8.2M1219.15 727.2v-8.2M1321.4 727.2v-8.2M1393.15 727.2v-8.2M1463.9 727.2v-8.2M1517.15 727.2v-8.2M1569.4 727.2v-8.2M1602.4 727.2v-8.2M1631.9 727.2v-8.2M1887.4 727.2v-8.2M2016.9 727.2v-8.2" stroke="#333" stroke-width="2" fill="none"/>
<text transform="translate(131.60 738.50) scale(0.96 1)" font-size="38.67" text-anchor="end" fill="#111">-30</text>
<text transform="translate(131.60 684.92) scale(0.96 1)" font-size="38.67" text-anchor="end" fill="#111">-20</text>
<text transform="translate(131.60 631.35) scale(0.96 1)" font-size="38.67" text-anchor="end" fill="#111">-10</text>
<text transform="translate(131.60 577.77) scale(0.96 1)" font-size="38.67" text-anchor="end" fill="#111">0</text>
<text transform="translate(131.60 524.19) scale(0.96 1)" font-size="38.67" text-anchor="end" fill="#111">10</text>
<text transform="translate(131.60 470.62) scale(0.96 1)" font-size="38.67" text-anchor="end" fill="#111">20</text>
<text transform="translate(131.60 417.04) scale(0.96 1)" font-size="38.67" text-anchor="end" fill="#111">30</text>
<text transform="translate(131.60 363.46) scale(0.96 1)" font-size="38.67" text-anchor="end" fill="#111">40</text>
<text transform="translate(131.60 309.88) scale(0.96 1)" font-size="38.67" text-anchor="end" fill="#111">50</text>
<text transform="translate(131.60 256.31) scale(0.96 1)" font-size="38.67" text-anchor="end" fill="#111">60</text>
<text transform="translate(131.60 202.73) scale(0.96 1)" font-size="38.67" text-anchor="end" fill="#111">70</text>
<text transform="translate(131.60 149.15) scale(0.96 1)" font-size="38.67" text-anchor="end" fill="#111">80</text>
<text transform="translate(131.60 95.58) scale(0.96 1)" font-size="38.67" text-anchor="end" fill="#111">90</text>
<text transform="translate(131.60 42.00) scale(0.96 1)" font-size="38.67" text-anchor="end" fill="#111">100</text>
<text transform="translate(832.70 768.00) scale(0.96 1)" font-size="38.67" text-anchor="middle" fill="#111">1M</text>
<text transform="translate(1632.10 768.00) scale(0.96 1)" font-size="38.67" text-anchor="middle" fill="#111">10M</text>
<text transform="translate(1082.50 789.00) scale(0.96 1)" font-size="38.67" text-anchor="middle" fill="#111">Hz (150K-30M)</text>
<g transform="translate(68 477.3) rotate(-90)" fill="#111"><title>幅值 (dBuV)</title><text x="0" y="0" font-size="37.6" fill="#111" style="font-family:'Liberation Serif','Noto Serif CJK SC',serif">幅值</text><text transform="translate(81.7 0) scale(0.96 1)" font-size="38.67" fill="#111">(dBuV)</text></g>
<g stroke-width="3.3" stroke-linecap="round" fill="none">
<path d="M637.5 267.3L926.3 72.8" stroke="#8fd14f"/>
<path d="M717.3 322.2L926.3 187.4" stroke="#ab72db"/>
<path d="M1505.2 451L1610.8 556" stroke="#f265c9"/>
<path d="M1476.3 486.5L1610.8 621.2" stroke="#e2a400"/>
</g>
<g transform="translate(964.6 80)" fill="#76923c"><title>标准值(QP)</title><text x="0" y="0" transform="scale(1 1.035)" font-size="44" font-weight="bold" fill="#76923c" style="font-family:'Liberation Sans','Noto Sans CJK SC',sans-serif">标准值</text><text transform="translate(131.3 -2) scale(0.985 1)" font-size="44" font-weight="bold" fill="#76923c">(QP)</text></g>
<g transform="translate(964.6 207)" fill="#b070d8"><title>标准值(AV)</title><text x="0" y="0" transform="scale(1 1.035)" font-size="44" font-weight="bold" fill="#b070d8" style="font-family:'Liberation Sans','Noto Sans CJK SC',sans-serif">标准值</text><text transform="translate(131.3 -2) scale(0.985 1)" font-size="44" font-weight="bold" fill="#b070d8">(AV)</text></g>
<g transform="translate(1637 578)" fill="#f05cc8"><title>测量值(PK)</title><text x="0" y="0" transform="scale(1 1.035)" font-size="44" font-weight="bold" fill="#f05cc8" style="font-family:'Liberation Sans','Noto Sans CJK SC',sans-serif">测量值</text><text transform="translate(131.3 -2) scale(0.985 1)" font-size="44" font-weight="bold" fill="#f05cc8">(PK)</text></g>
<g transform="translate(1635.8 655)" fill="#e0a800"><title>测量值(AV)</title><text x="0" y="0" transform="scale(1 1.035)" font-size="44" font-weight="bold" fill="#e0a800" style="font-family:'Liberation Sans','Noto Sans CJK SC',sans-serif">测量值</text><text transform="translate(131.3 -2) scale(0.985 1)" font-size="44" font-weight="bold" fill="#e0a800">(AV)</text></g>
</svg></body></html>
